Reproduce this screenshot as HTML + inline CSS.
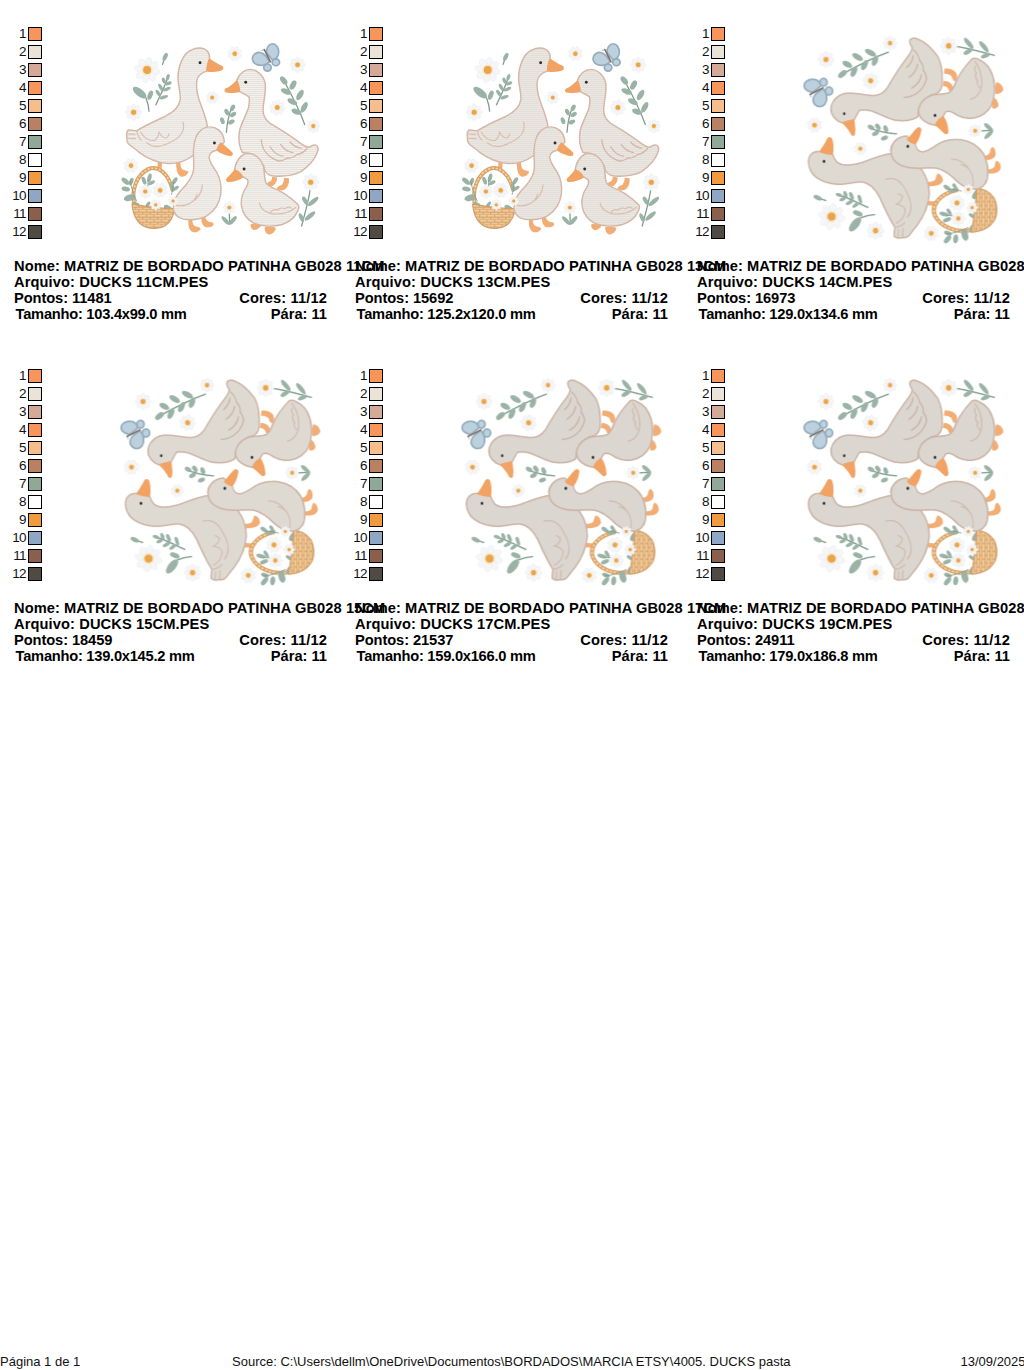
<!DOCTYPE html>
<html><head><meta charset="utf-8"><title>DUCKS</title>
<style>
html,body{margin:0;padding:0;background:#fff;}
body{width:1024px;height:1370px;position:relative;overflow:hidden;font-family:"Liberation Sans",sans-serif;color:#000;}
.cell{position:absolute;width:342px;height:340px;}
.n{position:absolute;left:0;width:25.6px;text-align:right;font-size:13.5px;letter-spacing:-0.8px;line-height:14px;height:14px;color:#111;}
.s{position:absolute;left:28px;width:12px;height:12px;border:1px solid #000;}
.t{position:absolute;left:14px;font-weight:bold;font-size:14.67px;line-height:16px;white-space:nowrap;}
.r{position:absolute;right:15px;font-weight:bold;font-size:14.67px;line-height:16px;white-space:nowrap;text-align:right;}
.art{position:absolute;left:0;top:0;width:342px;height:260px;overflow:visible;}
.f{position:absolute;top:1355px;font-size:13px;line-height:14px;white-space:nowrap;color:#111;}
</style></head>
<body>
<svg width="0" height="0" style="position:absolute"><defs>
<filter id="soft" x="-5%" y="-5%" width="110%" height="110%"><feGaussianBlur stdDeviation="0.45"/></filter>
<pattern id="fillA1a" patternUnits="userSpaceOnUse" width="15.170" height="15.170"><rect width="16.170" height="16.170" fill="#e6e1da"/><rect y="0" width="16.170" height="7.585" fill="#f3f1ed"/></pattern>
<pattern id="fillA1b" patternUnits="userSpaceOnUse" width="17.066" height="17.066"><rect width="18.066" height="18.066" fill="#e6e1da"/><rect y="0" width="18.066" height="8.533" fill="#f3f1ed"/></pattern>
<pattern id="fillA2a" patternUnits="userSpaceOnUse" width="15.170" height="15.170"><rect width="16.170" height="16.170" fill="#e2ddd6"/><rect y="0" width="16.170" height="7.585" fill="#ebe7e2"/></pattern>
<pattern id="fillA2b" patternUnits="userSpaceOnUse" width="17.066" height="17.066"><rect width="18.066" height="18.066" fill="#e2ddd6"/><rect y="0" width="18.066" height="8.533" fill="#ebe7e2"/></pattern>
<pattern id="weave" patternUnits="userSpaceOnUse" width="90" height="60"><rect width="90" height="60" fill="#f3cd9c"/><path d="M0 28 H90 M0 58 H90 M20 0 V28 M65 30 V58" stroke="#cf9960" stroke-width="11" fill="none"/></pattern>
<g id="artA1" filter="url(#soft)">
<g fill="none" stroke="#7f9b8d" stroke-width="1.3" stroke-linecap="round">
<path d="M310.5 187 C309 200 305 213 301.6 226"/>
<path d="M229.2 211 L229.7 224"/>
<path d="M146 98 C147.5 102 148.8 106 149 111.2"/>
<path d="M155.9 104.8 C158.5 99 162 92 165.1 84.7 C166.5 81 167.5 78 168.2 76"/>
<path d="M226.4 132.3 C227 122 229.5 113 232.3 106"/>
<path d="M282.4 78 C290 92 298 106 304.7 124.5"/>
<path d="M162.5 64.4 L164 60"/>
</g>
<ellipse cx="165.2" cy="56.8" rx="2.1" ry="4.3" transform="rotate(25 165.2 56.8)" fill="#9ab3a6"/><ellipse cx="139.6" cy="92.6" rx="8.2" ry="3.7" transform="rotate(38 139.6 92.6)" fill="#9ab3a6"/><ellipse cx="150.2" cy="95.2" rx="4.8" ry="2.4" transform="rotate(-68 150.2 95.2)" fill="#9ab3a6"/><ellipse cx="167.8" cy="77.3" rx="3.4" ry="1.7" transform="rotate(-73 167.8 77.3)" fill="#9ab3a6"/><ellipse cx="163.8" cy="80.6" rx="3.2" ry="1.7" transform="rotate(-112 163.8 80.6)" fill="#9ab3a6"/><ellipse cx="168.5" cy="83.4" rx="3.3" ry="1.7" transform="rotate(-20 168.5 83.4)" fill="#9ab3a6"/><ellipse cx="160.6" cy="87.3" rx="3.9" ry="1.7" transform="rotate(-118 160.6 87.3)" fill="#9ab3a6"/><ellipse cx="166.8" cy="89.2" rx="4.1" ry="1.7" transform="rotate(-23 166.8 89.2)" fill="#9ab3a6"/><ellipse cx="158.2" cy="93.2" rx="3.9" ry="1.7" transform="rotate(-125 158.2 93.2)" fill="#9ab3a6"/><ellipse cx="163.9" cy="97.2" rx="4.3" ry="1.7" transform="rotate(-19 163.9 97.2)" fill="#9ab3a6"/><ellipse cx="222.4" cy="120.7" rx="3.5" ry="2.1" transform="rotate(70 222.4 120.7)" fill="#9ab3a6"/><ellipse cx="231.3" cy="122.0" rx="3.5" ry="2.1" transform="rotate(-25 231.3 122.0)" fill="#9ab3a6"/><ellipse cx="226.8" cy="112.2" rx="3.5" ry="2.1" transform="rotate(65 226.8 112.2)" fill="#9ab3a6"/><ellipse cx="233.1" cy="114.5" rx="3.5" ry="2.1" transform="rotate(-35 233.1 114.5)" fill="#9ab3a6"/><ellipse cx="232.6" cy="107.9" rx="3.5" ry="2.1" transform="rotate(-60 232.6 107.9)" fill="#9ab3a6"/><ellipse cx="293.0" cy="85.1" rx="5.1" ry="2.7" transform="rotate(-61 293.0 85.1)" fill="#9ab3a6"/><ellipse cx="300.0" cy="95.0" rx="5.8" ry="2.7" transform="rotate(-59 300.0 95.0)" fill="#9ab3a6"/><ellipse cx="304.2" cy="107.3" rx="5.8" ry="2.7" transform="rotate(-62 304.2 107.3)" fill="#9ab3a6"/><ellipse cx="283.7" cy="80.5" rx="4.8" ry="2.7" transform="rotate(-129 283.7 80.5)" fill="#9ab3a6"/><ellipse cx="286.1" cy="91.5" rx="5.5" ry="2.7" transform="rotate(-156 286.1 91.5)" fill="#9ab3a6"/><ellipse cx="292.3" cy="101.7" rx="5.3" ry="2.7" transform="rotate(-152 292.3 101.7)" fill="#9ab3a6"/><ellipse cx="296.5" cy="111.7" rx="5.3" ry="2.7" transform="rotate(-159 296.5 111.7)" fill="#9ab3a6"/><ellipse cx="313.2" cy="201.5" rx="6.7" ry="2.2" transform="rotate(-40 313.2 201.5)" fill="#9ab3a6"/><ellipse cx="305.1" cy="200.7" rx="4.7" ry="2.1" transform="rotate(-120 305.1 200.7)" fill="#9ab3a6"/><ellipse cx="310.0" cy="216.0" rx="6.7" ry="2.2" transform="rotate(-40 310.0 216.0)" fill="#9ab3a6"/><ellipse cx="301.4" cy="217.6" rx="4.7" ry="2.0" transform="rotate(-113 301.4 217.6)" fill="#9ab3a6"/><ellipse cx="225.6" cy="220.6" rx="5.6" ry="2.0" transform="rotate(-134 225.6 220.6)" fill="#9ab3a6"/><ellipse cx="232.9" cy="220.4" rx="5.4" ry="2.0" transform="rotate(-50 232.9 220.4)" fill="#9ab3a6"/>
<g transform="translate(147.1 70.0) rotate(10)"><ellipse cx="0" cy="-7.69" rx="3.35" ry="5.21" transform="rotate(0)" fill="#f5f6f8" stroke="#e6e9ee" stroke-width="0.4"/><ellipse cx="0" cy="-7.69" rx="3.35" ry="5.21" transform="rotate(45)" fill="#f5f6f8" stroke="#e6e9ee" stroke-width="0.4"/><ellipse cx="0" cy="-7.69" rx="3.35" ry="5.21" transform="rotate(90)" fill="#f5f6f8" stroke="#e6e9ee" stroke-width="0.4"/><ellipse cx="0" cy="-7.69" rx="3.35" ry="5.21" transform="rotate(135)" fill="#f5f6f8" stroke="#e6e9ee" stroke-width="0.4"/><ellipse cx="0" cy="-7.69" rx="3.35" ry="5.21" transform="rotate(180)" fill="#f5f6f8" stroke="#e6e9ee" stroke-width="0.4"/><ellipse cx="0" cy="-7.69" rx="3.35" ry="5.21" transform="rotate(225)" fill="#f5f6f8" stroke="#e6e9ee" stroke-width="0.4"/><ellipse cx="0" cy="-7.69" rx="3.35" ry="5.21" transform="rotate(270)" fill="#f5f6f8" stroke="#e6e9ee" stroke-width="0.4"/><ellipse cx="0" cy="-7.69" rx="3.35" ry="5.21" transform="rotate(315)" fill="#f5f6f8" stroke="#e6e9ee" stroke-width="0.4"/><circle r="5.46" fill="#fbe6c8"/><circle r="3.97" fill="#e9a548"/></g>
<g transform="translate(133.6 112.2) rotate(0)"><ellipse cx="0" cy="-4.96" rx="2.16" ry="3.36" transform="rotate(0)" fill="#f5f6f8" stroke="#e6e9ee" stroke-width="0.4"/><ellipse cx="0" cy="-4.96" rx="2.16" ry="3.36" transform="rotate(45)" fill="#f5f6f8" stroke="#e6e9ee" stroke-width="0.4"/><ellipse cx="0" cy="-4.96" rx="2.16" ry="3.36" transform="rotate(90)" fill="#f5f6f8" stroke="#e6e9ee" stroke-width="0.4"/><ellipse cx="0" cy="-4.96" rx="2.16" ry="3.36" transform="rotate(135)" fill="#f5f6f8" stroke="#e6e9ee" stroke-width="0.4"/><ellipse cx="0" cy="-4.96" rx="2.16" ry="3.36" transform="rotate(180)" fill="#f5f6f8" stroke="#e6e9ee" stroke-width="0.4"/><ellipse cx="0" cy="-4.96" rx="2.16" ry="3.36" transform="rotate(225)" fill="#f5f6f8" stroke="#e6e9ee" stroke-width="0.4"/><ellipse cx="0" cy="-4.96" rx="2.16" ry="3.36" transform="rotate(270)" fill="#f5f6f8" stroke="#e6e9ee" stroke-width="0.4"/><ellipse cx="0" cy="-4.96" rx="2.16" ry="3.36" transform="rotate(315)" fill="#f5f6f8" stroke="#e6e9ee" stroke-width="0.4"/><circle r="3.52" fill="#fbe6c8"/><circle r="2.56" fill="#e9a548"/></g>
<g transform="translate(234.7 53.7) rotate(20)"><ellipse cx="0" cy="-4.34" rx="1.89" ry="2.94" transform="rotate(0)" fill="#f5f6f8" stroke="#e6e9ee" stroke-width="0.4"/><ellipse cx="0" cy="-4.34" rx="1.89" ry="2.94" transform="rotate(45)" fill="#f5f6f8" stroke="#e6e9ee" stroke-width="0.4"/><ellipse cx="0" cy="-4.34" rx="1.89" ry="2.94" transform="rotate(90)" fill="#f5f6f8" stroke="#e6e9ee" stroke-width="0.4"/><ellipse cx="0" cy="-4.34" rx="1.89" ry="2.94" transform="rotate(135)" fill="#f5f6f8" stroke="#e6e9ee" stroke-width="0.4"/><ellipse cx="0" cy="-4.34" rx="1.89" ry="2.94" transform="rotate(180)" fill="#f5f6f8" stroke="#e6e9ee" stroke-width="0.4"/><ellipse cx="0" cy="-4.34" rx="1.89" ry="2.94" transform="rotate(225)" fill="#f5f6f8" stroke="#e6e9ee" stroke-width="0.4"/><ellipse cx="0" cy="-4.34" rx="1.89" ry="2.94" transform="rotate(270)" fill="#f5f6f8" stroke="#e6e9ee" stroke-width="0.4"/><ellipse cx="0" cy="-4.34" rx="1.89" ry="2.94" transform="rotate(315)" fill="#f5f6f8" stroke="#e6e9ee" stroke-width="0.4"/><circle r="3.08" fill="#fbe6c8"/><circle r="2.24" fill="#e9a548"/></g>
<g transform="translate(297.6 64.8) rotate(0)"><ellipse cx="0" cy="-4.65" rx="2.03" ry="3.15" transform="rotate(0)" fill="#f5f6f8" stroke="#e6e9ee" stroke-width="0.4"/><ellipse cx="0" cy="-4.65" rx="2.03" ry="3.15" transform="rotate(45)" fill="#f5f6f8" stroke="#e6e9ee" stroke-width="0.4"/><ellipse cx="0" cy="-4.65" rx="2.03" ry="3.15" transform="rotate(90)" fill="#f5f6f8" stroke="#e6e9ee" stroke-width="0.4"/><ellipse cx="0" cy="-4.65" rx="2.03" ry="3.15" transform="rotate(135)" fill="#f5f6f8" stroke="#e6e9ee" stroke-width="0.4"/><ellipse cx="0" cy="-4.65" rx="2.03" ry="3.15" transform="rotate(180)" fill="#f5f6f8" stroke="#e6e9ee" stroke-width="0.4"/><ellipse cx="0" cy="-4.65" rx="2.03" ry="3.15" transform="rotate(225)" fill="#f5f6f8" stroke="#e6e9ee" stroke-width="0.4"/><ellipse cx="0" cy="-4.65" rx="2.03" ry="3.15" transform="rotate(270)" fill="#f5f6f8" stroke="#e6e9ee" stroke-width="0.4"/><ellipse cx="0" cy="-4.65" rx="2.03" ry="3.15" transform="rotate(315)" fill="#f5f6f8" stroke="#e6e9ee" stroke-width="0.4"/><circle r="3.30" fill="#fbe6c8"/><circle r="2.40" fill="#e9a548"/></g>
<g transform="translate(212.2 97.6) rotate(15)"><ellipse cx="0" cy="-3.72" rx="1.62" ry="2.52" transform="rotate(0)" fill="#f5f6f8" stroke="#e6e9ee" stroke-width="0.4"/><ellipse cx="0" cy="-3.72" rx="1.62" ry="2.52" transform="rotate(45)" fill="#f5f6f8" stroke="#e6e9ee" stroke-width="0.4"/><ellipse cx="0" cy="-3.72" rx="1.62" ry="2.52" transform="rotate(90)" fill="#f5f6f8" stroke="#e6e9ee" stroke-width="0.4"/><ellipse cx="0" cy="-3.72" rx="1.62" ry="2.52" transform="rotate(135)" fill="#f5f6f8" stroke="#e6e9ee" stroke-width="0.4"/><ellipse cx="0" cy="-3.72" rx="1.62" ry="2.52" transform="rotate(180)" fill="#f5f6f8" stroke="#e6e9ee" stroke-width="0.4"/><ellipse cx="0" cy="-3.72" rx="1.62" ry="2.52" transform="rotate(225)" fill="#f5f6f8" stroke="#e6e9ee" stroke-width="0.4"/><ellipse cx="0" cy="-3.72" rx="1.62" ry="2.52" transform="rotate(270)" fill="#f5f6f8" stroke="#e6e9ee" stroke-width="0.4"/><ellipse cx="0" cy="-3.72" rx="1.62" ry="2.52" transform="rotate(315)" fill="#f5f6f8" stroke="#e6e9ee" stroke-width="0.4"/><circle r="2.64" fill="#fbe6c8"/><circle r="1.92" fill="#e9a548"/></g>
<g transform="translate(277.3 107.5) rotate(10)"><ellipse cx="0" cy="-4.65" rx="2.03" ry="3.15" transform="rotate(0)" fill="#f5f6f8" stroke="#e6e9ee" stroke-width="0.4"/><ellipse cx="0" cy="-4.65" rx="2.03" ry="3.15" transform="rotate(45)" fill="#f5f6f8" stroke="#e6e9ee" stroke-width="0.4"/><ellipse cx="0" cy="-4.65" rx="2.03" ry="3.15" transform="rotate(90)" fill="#f5f6f8" stroke="#e6e9ee" stroke-width="0.4"/><ellipse cx="0" cy="-4.65" rx="2.03" ry="3.15" transform="rotate(135)" fill="#f5f6f8" stroke="#e6e9ee" stroke-width="0.4"/><ellipse cx="0" cy="-4.65" rx="2.03" ry="3.15" transform="rotate(180)" fill="#f5f6f8" stroke="#e6e9ee" stroke-width="0.4"/><ellipse cx="0" cy="-4.65" rx="2.03" ry="3.15" transform="rotate(225)" fill="#f5f6f8" stroke="#e6e9ee" stroke-width="0.4"/><ellipse cx="0" cy="-4.65" rx="2.03" ry="3.15" transform="rotate(270)" fill="#f5f6f8" stroke="#e6e9ee" stroke-width="0.4"/><ellipse cx="0" cy="-4.65" rx="2.03" ry="3.15" transform="rotate(315)" fill="#f5f6f8" stroke="#e6e9ee" stroke-width="0.4"/><circle r="3.30" fill="#fbe6c8"/><circle r="2.40" fill="#e9a548"/></g>
<g transform="translate(313.3 126.1) rotate(0)"><ellipse cx="0" cy="-4.03" rx="1.76" ry="2.73" transform="rotate(0)" fill="#f5f6f8" stroke="#e6e9ee" stroke-width="0.4"/><ellipse cx="0" cy="-4.03" rx="1.76" ry="2.73" transform="rotate(45)" fill="#f5f6f8" stroke="#e6e9ee" stroke-width="0.4"/><ellipse cx="0" cy="-4.03" rx="1.76" ry="2.73" transform="rotate(90)" fill="#f5f6f8" stroke="#e6e9ee" stroke-width="0.4"/><ellipse cx="0" cy="-4.03" rx="1.76" ry="2.73" transform="rotate(135)" fill="#f5f6f8" stroke="#e6e9ee" stroke-width="0.4"/><ellipse cx="0" cy="-4.03" rx="1.76" ry="2.73" transform="rotate(180)" fill="#f5f6f8" stroke="#e6e9ee" stroke-width="0.4"/><ellipse cx="0" cy="-4.03" rx="1.76" ry="2.73" transform="rotate(225)" fill="#f5f6f8" stroke="#e6e9ee" stroke-width="0.4"/><ellipse cx="0" cy="-4.03" rx="1.76" ry="2.73" transform="rotate(270)" fill="#f5f6f8" stroke="#e6e9ee" stroke-width="0.4"/><ellipse cx="0" cy="-4.03" rx="1.76" ry="2.73" transform="rotate(315)" fill="#f5f6f8" stroke="#e6e9ee" stroke-width="0.4"/><circle r="2.86" fill="#fbe6c8"/><circle r="2.08" fill="#e9a548"/></g>
<g transform="translate(131.0 165.6) rotate(20)"><ellipse cx="0" cy="-4.34" rx="1.89" ry="2.94" transform="rotate(0)" fill="#f5f6f8" stroke="#e6e9ee" stroke-width="0.4"/><ellipse cx="0" cy="-4.34" rx="1.89" ry="2.94" transform="rotate(45)" fill="#f5f6f8" stroke="#e6e9ee" stroke-width="0.4"/><ellipse cx="0" cy="-4.34" rx="1.89" ry="2.94" transform="rotate(90)" fill="#f5f6f8" stroke="#e6e9ee" stroke-width="0.4"/><ellipse cx="0" cy="-4.34" rx="1.89" ry="2.94" transform="rotate(135)" fill="#f5f6f8" stroke="#e6e9ee" stroke-width="0.4"/><ellipse cx="0" cy="-4.34" rx="1.89" ry="2.94" transform="rotate(180)" fill="#f5f6f8" stroke="#e6e9ee" stroke-width="0.4"/><ellipse cx="0" cy="-4.34" rx="1.89" ry="2.94" transform="rotate(225)" fill="#f5f6f8" stroke="#e6e9ee" stroke-width="0.4"/><ellipse cx="0" cy="-4.34" rx="1.89" ry="2.94" transform="rotate(270)" fill="#f5f6f8" stroke="#e6e9ee" stroke-width="0.4"/><ellipse cx="0" cy="-4.34" rx="1.89" ry="2.94" transform="rotate(315)" fill="#f5f6f8" stroke="#e6e9ee" stroke-width="0.4"/><circle r="3.08" fill="#fbe6c8"/><circle r="2.24" fill="#e9a548"/></g>
<g transform="translate(310.7 182.2) rotate(0)"><ellipse cx="0" cy="-4.96" rx="2.16" ry="3.36" transform="rotate(0)" fill="#f5f6f8" stroke="#e6e9ee" stroke-width="0.4"/><ellipse cx="0" cy="-4.96" rx="2.16" ry="3.36" transform="rotate(45)" fill="#f5f6f8" stroke="#e6e9ee" stroke-width="0.4"/><ellipse cx="0" cy="-4.96" rx="2.16" ry="3.36" transform="rotate(90)" fill="#f5f6f8" stroke="#e6e9ee" stroke-width="0.4"/><ellipse cx="0" cy="-4.96" rx="2.16" ry="3.36" transform="rotate(135)" fill="#f5f6f8" stroke="#e6e9ee" stroke-width="0.4"/><ellipse cx="0" cy="-4.96" rx="2.16" ry="3.36" transform="rotate(180)" fill="#f5f6f8" stroke="#e6e9ee" stroke-width="0.4"/><ellipse cx="0" cy="-4.96" rx="2.16" ry="3.36" transform="rotate(225)" fill="#f5f6f8" stroke="#e6e9ee" stroke-width="0.4"/><ellipse cx="0" cy="-4.96" rx="2.16" ry="3.36" transform="rotate(270)" fill="#f5f6f8" stroke="#e6e9ee" stroke-width="0.4"/><ellipse cx="0" cy="-4.96" rx="2.16" ry="3.36" transform="rotate(315)" fill="#f5f6f8" stroke="#e6e9ee" stroke-width="0.4"/><circle r="3.52" fill="#fbe6c8"/><circle r="2.56" fill="#e9a548"/></g>
<g transform="translate(229.3 207.6) rotate(0)"><ellipse cx="0" cy="-3.72" rx="1.62" ry="2.52" transform="rotate(0)" fill="#f5f6f8" stroke="#e6e9ee" stroke-width="0.4"/><ellipse cx="0" cy="-3.72" rx="1.62" ry="2.52" transform="rotate(45)" fill="#f5f6f8" stroke="#e6e9ee" stroke-width="0.4"/><ellipse cx="0" cy="-3.72" rx="1.62" ry="2.52" transform="rotate(90)" fill="#f5f6f8" stroke="#e6e9ee" stroke-width="0.4"/><ellipse cx="0" cy="-3.72" rx="1.62" ry="2.52" transform="rotate(135)" fill="#f5f6f8" stroke="#e6e9ee" stroke-width="0.4"/><ellipse cx="0" cy="-3.72" rx="1.62" ry="2.52" transform="rotate(180)" fill="#f5f6f8" stroke="#e6e9ee" stroke-width="0.4"/><ellipse cx="0" cy="-3.72" rx="1.62" ry="2.52" transform="rotate(225)" fill="#f5f6f8" stroke="#e6e9ee" stroke-width="0.4"/><ellipse cx="0" cy="-3.72" rx="1.62" ry="2.52" transform="rotate(270)" fill="#f5f6f8" stroke="#e6e9ee" stroke-width="0.4"/><ellipse cx="0" cy="-3.72" rx="1.62" ry="2.52" transform="rotate(315)" fill="#f5f6f8" stroke="#e6e9ee" stroke-width="0.4"/><circle r="2.64" fill="#fbe6c8"/><circle r="1.92" fill="#e9a548"/></g>
<!-- duck 1 : Z1 [115,40,250,175] -->
<g transform="translate(115 40) scale(0.13184)">
 <g fill="#f2ad74">
  <path d="M463 913 L497 913 C494 945 498 968 510 980 C525 990 545 990 557 998 C555 1020 530 1040 503 1037 C480 1030 462 1005 463 913 Z"/>
  <path d="M325 925 L358 930 L352 985 L322 985 Z"/>
 </g>
 <path fill="url(#fillA1a)" stroke="#d5b7a7" stroke-width="11" stroke-linejoin="round" d="M640 60 C700 60 722 105 716 142 L696 236 C660 246 628 268 620 310 C612 370 630 440 655 500 C678 560 694 610 702 660 L700 760 C680 830 630 865 590 878 C540 915 470 940 400 937 C320 930 240 895 180 850 C150 822 118 805 100 785 C84 765 90 745 90 735 C84 715 90 695 100 683 C125 680 145 690 165 688 C225 652 300 615 380 580 C440 550 488 505 495 450 C498 400 478 340 478 290 C478 200 515 105 575 78 C595 66 620 60 640 60 Z"/>
 <path fill="#f2a262" d="M716 138 C745 160 785 185 812 196 C826 206 824 226 810 232 C775 244 730 244 694 238 C690 200 700 165 716 138 Z"/>
 <circle cx="645" cy="173" r="11" fill="#2d2a28"/>
 <path fill="none" stroke="#dac0b2" stroke-width="9" stroke-linecap="round" d="M515 622 C532 680 505 728 445 762 C400 788 350 810 310 806 M195 700 C220 745 262 765 300 762 C318 748 330 722 334 700 C350 730 372 745 392 742 C400 735 408 722 410 712 M240 780 C265 800 292 808 312 806 M165 690 C170 720 180 745 200 760 M100 712 L150 716 M95 745 L155 748"/>
</g>
<!-- duck 2 : Z2 [215,60,335,180] -->
<g transform="translate(170 115) scale(0.13184)" fill="#f2ad74">
 <path d="M775 468 L812 474 C814 500 802 522 782 536 C766 546 745 546 731 536 C727 520 744 510 760 505 C770 495 775 485 775 468 Z"/>
 <path d="M865 476 L902 480 C907 510 897 542 876 562 C860 576 830 576 811 560 C809 545 830 535 848 530 C860 515 865 500 865 476 Z"/>
</g>
<g transform="translate(215 60) scale(0.11719)">
 <path fill="url(#fillA1b)" stroke="#d5b7a7" stroke-width="12.5" stroke-linejoin="round" d="M300 80 C360 82 415 130 428 200 C438 270 415 340 410 420 C408 470 430 510 470 540 C540 580 640 640 740 718 C765 735 790 745 805 745 C825 730 850 722 865 728 C885 745 880 775 870 795 C850 850 800 905 730 955 C670 985 580 995 500 990 C450 985 420 950 415 900 L300 800 L235 790 C205 740 200 660 210 600 C225 540 265 470 285 410 C295 370 295 340 290 315 C270 300 240 285 213 272 L187 172 C205 120 250 80 300 80 Z"/>
 <path fill="#f2a262" d="M187 170 C160 198 122 232 90 244 C76 254 78 274 92 278 C130 286 175 280 213 272 C215 235 205 200 187 170 Z"/>
 <circle cx="262" cy="190" r="12" fill="#2d2a28"/>
 <path fill="none" stroke="#d5b7a7" stroke-width="11" stroke-linecap="round" d="M395 680 C398 760 450 835 545 862 C575 860 600 850 615 835 C650 840 680 825 700 805 C735 800 765 780 785 755 M470 740 C500 790 540 815 580 820 M560 720 C590 765 630 785 665 790 M640 700 C670 735 700 750 735 752"/>
</g>
<!-- basket : Z4 [115,155,200,240] -->
<g transform="translate(115 155) scale(0.08301)">
 <path fill="none" stroke="#dba266" stroke-width="48" stroke-linecap="round" d="M228 575 C200 420 260 240 400 170 C520 120 650 230 692 420"/>
 <path fill="none" stroke="#f5d3a4" stroke-width="20" stroke-linecap="butt" stroke-dasharray="28 18" d="M228 575 C200 420 260 240 400 170 C520 120 650 230 692 420"/>
 <g fill="#9ab3a6">
  <ellipse cx="125" cy="315" rx="56" ry="28" transform="rotate(40 125 315)"/>
  <ellipse cx="195" cy="320" rx="47" ry="24" transform="rotate(-70 195 320)"/>
  <ellipse cx="130" cy="410" rx="52" ry="28" transform="rotate(10 130 410)"/>
  <ellipse cx="175" cy="515" rx="69" ry="38" transform="rotate(-15 175 515)"/>
  <ellipse cx="350" cy="310" rx="50" ry="24" transform="rotate(70 350 310)"/>
  <ellipse cx="415" cy="275" rx="54" ry="24" transform="rotate(-75 415 275)"/>
  <ellipse cx="440" cy="335" rx="45" ry="21" transform="rotate(-30 440 335)"/>
  <ellipse cx="720" cy="310" rx="47" ry="24" transform="rotate(-55 720 310)"/>
  <ellipse cx="690" cy="390" rx="50" ry="24" transform="rotate(70 690 390)"/>
  <ellipse cx="735" cy="400" rx="40" ry="20" transform="rotate(-35 735 400)"/>
  <ellipse cx="782" cy="548" rx="43" ry="20" transform="rotate(-25 782 548)"/>
  <ellipse cx="640" cy="640" rx="56" ry="31" transform="rotate(30 640 640)"/>
  <ellipse cx="395" cy="600" rx="45" ry="20" transform="rotate(-55 395 600)"/>
  <ellipse cx="250" cy="590" rx="45" ry="21" transform="rotate(20 250 590)"/>
 </g>
 <path fill="none" stroke="#7f9b8d" stroke-width="10" d="M185 300 C190 400 230 480 262 560 M400 300 L395 380 M705 330 C700 400 690 440 680 480"/>
 <path fill="url(#weave)" stroke="#cf9d66" stroke-width="13" stroke-linejoin="round" d="M205 592 C300 605 500 650 712 645 C712 720 680 800 600 855 C540 890 420 895 360 865 C270 820 215 720 205 592 Z"/>
</g>
<!-- duck 3 & 4 : Z3 [170,115,305,250] -->
<g transform="translate(170 115) scale(0.13184)">
 <g fill="#f2ad74">
  <path d="M140 793 L170 793 C168 820 176 838 196 845 C216 848 231 852 233 862 C226 880 200 893 175 889 C150 880 135 850 140 793 Z"/>
  <path d="M238 776 L266 768 C269 795 286 808 306 812 C321 815 333 820 331 832 C321 850 290 856 265 849 C245 835 235 810 238 776 Z"/>
  <path d="M614 826 C640 823 670 826 692 834 C687 856 660 872 634 872 C616 863 606 845 614 826 Z"/>
  <path d="M719 849 C745 843 780 846 802 857 C802 880 776 907 745 907 C724 896 714 870 719 849 Z"/>
 </g>
 <path fill="url(#fillA1a)" stroke="#d5b7a7" stroke-width="11" stroke-linejoin="round" d="M300 90 C350 88 395 125 408 175 L412 205 L352 268 C320 275 298 295 296 320 C300 360 330 400 355 435 C380 480 392 540 385 600 C375 670 335 730 280 765 C230 790 160 800 100 790 C55 780 25 745 25 700 C28 650 50 610 80 575 C130 525 170 470 178 420 C185 370 175 320 178 270 C180 200 200 140 240 110 C258 96 280 90 300 90 Z"/>
 <path fill="#f2a262" d="M385 206 C415 232 452 260 472 282 C482 296 474 312 458 312 C425 308 385 294 352 270 C355 245 365 225 385 206 Z"/>
 <circle cx="337" cy="212" r="11" fill="#2d2a28"/>
 <path fill="none" stroke="#dac0b2" stroke-width="9" stroke-linecap="round" d="M246 530 C244 590 205 640 150 672 C115 688 80 692 48 686 M205 600 C200 620 192 635 180 648"/>
 <path fill="url(#fillA1a)" stroke="#d5b7a7" stroke-width="11" stroke-linejoin="round" d="M590 290 C640 290 690 330 708 385 C720 430 712 480 728 515 C745 545 790 555 830 575 C880 600 930 640 972 680 C982 700 975 720 965 735 C945 780 900 815 845 832 C790 848 700 848 640 822 C590 800 550 750 542 690 C535 630 555 580 580 545 C592 525 594 505 588 490 L555 470 L490 415 C495 380 510 340 540 312 C555 298 572 290 590 290 Z"/>
 <path fill="#f2a262" d="M490 411 C470 438 443 466 428 482 C420 496 430 510 446 509 C482 506 522 496 556 474 C546 440 520 420 490 411 Z"/>
 <circle cx="562" cy="410" r="11" fill="#2d2a28"/>
 <path fill="none" stroke="#dac0b2" stroke-width="9" stroke-linecap="round" d="M680 668 C688 715 735 750 800 752 C860 752 915 735 955 700 M760 740 C775 720 800 712 815 722 C830 705 855 700 870 712 C885 698 905 695 920 705"/>
</g>
<!-- butterfly : Z5 [245,35,295,85] -->
<g transform="translate(245 35) scale(0.04883)">
 <g fill="#bcd0dd" stroke="#93adbe" stroke-width="34" stroke-linejoin="round">
  <ellipse cx="460" cy="668" rx="78" ry="72"/>
  <ellipse cx="632" cy="560" rx="76" ry="70"/>
  <path d="M470 500 C420 400 330 340 250 360 C170 385 130 470 165 540 C200 610 300 640 400 610 C450 595 490 560 510 540 Z"/>
  <path d="M440 360 C430 280 480 190 560 180 C640 180 690 260 690 350 C690 430 640 490 560 510 Z"/>
 </g>
 <path fill="none" stroke="#856c63" stroke-width="30" stroke-linecap="round" d="M392 295 L522 550"/>
 <path fill="none" stroke="#8b7268" stroke-width="10" stroke-linecap="round" d="M395 300 L340 318"/>
</g>

<g transform="translate(145.3 191.5) rotate(0)"><ellipse cx="0" cy="-4.09" rx="1.78" ry="2.77" transform="rotate(0)" fill="#f5f6f8" stroke="#e6e9ee" stroke-width="0.4"/><ellipse cx="0" cy="-4.09" rx="1.78" ry="2.77" transform="rotate(45)" fill="#f5f6f8" stroke="#e6e9ee" stroke-width="0.4"/><ellipse cx="0" cy="-4.09" rx="1.78" ry="2.77" transform="rotate(90)" fill="#f5f6f8" stroke="#e6e9ee" stroke-width="0.4"/><ellipse cx="0" cy="-4.09" rx="1.78" ry="2.77" transform="rotate(135)" fill="#f5f6f8" stroke="#e6e9ee" stroke-width="0.4"/><ellipse cx="0" cy="-4.09" rx="1.78" ry="2.77" transform="rotate(180)" fill="#f5f6f8" stroke="#e6e9ee" stroke-width="0.4"/><ellipse cx="0" cy="-4.09" rx="1.78" ry="2.77" transform="rotate(225)" fill="#f5f6f8" stroke="#e6e9ee" stroke-width="0.4"/><ellipse cx="0" cy="-4.09" rx="1.78" ry="2.77" transform="rotate(270)" fill="#f5f6f8" stroke="#e6e9ee" stroke-width="0.4"/><ellipse cx="0" cy="-4.09" rx="1.78" ry="2.77" transform="rotate(315)" fill="#f5f6f8" stroke="#e6e9ee" stroke-width="0.4"/><circle r="2.90" fill="#fbe6c8"/><circle r="2.11" fill="#e9a548"/></g><g transform="translate(160.2 190.3) rotate(20)"><ellipse cx="0" cy="-4.46" rx="1.94" ry="3.02" transform="rotate(0)" fill="#f5f6f8" stroke="#e6e9ee" stroke-width="0.4"/><ellipse cx="0" cy="-4.46" rx="1.94" ry="3.02" transform="rotate(45)" fill="#f5f6f8" stroke="#e6e9ee" stroke-width="0.4"/><ellipse cx="0" cy="-4.46" rx="1.94" ry="3.02" transform="rotate(90)" fill="#f5f6f8" stroke="#e6e9ee" stroke-width="0.4"/><ellipse cx="0" cy="-4.46" rx="1.94" ry="3.02" transform="rotate(135)" fill="#f5f6f8" stroke="#e6e9ee" stroke-width="0.4"/><ellipse cx="0" cy="-4.46" rx="1.94" ry="3.02" transform="rotate(180)" fill="#f5f6f8" stroke="#e6e9ee" stroke-width="0.4"/><ellipse cx="0" cy="-4.46" rx="1.94" ry="3.02" transform="rotate(225)" fill="#f5f6f8" stroke="#e6e9ee" stroke-width="0.4"/><ellipse cx="0" cy="-4.46" rx="1.94" ry="3.02" transform="rotate(270)" fill="#f5f6f8" stroke="#e6e9ee" stroke-width="0.4"/><ellipse cx="0" cy="-4.46" rx="1.94" ry="3.02" transform="rotate(315)" fill="#f5f6f8" stroke="#e6e9ee" stroke-width="0.4"/><circle r="3.17" fill="#fbe6c8"/><circle r="2.30" fill="#e9a548"/></g><g transform="translate(155.7 204.8) rotate(0)"><ellipse cx="0" cy="-3.22" rx="1.40" ry="2.18" transform="rotate(0)" fill="#f5f6f8" stroke="#e6e9ee" stroke-width="0.4"/><ellipse cx="0" cy="-3.22" rx="1.40" ry="2.18" transform="rotate(45)" fill="#f5f6f8" stroke="#e6e9ee" stroke-width="0.4"/><ellipse cx="0" cy="-3.22" rx="1.40" ry="2.18" transform="rotate(90)" fill="#f5f6f8" stroke="#e6e9ee" stroke-width="0.4"/><ellipse cx="0" cy="-3.22" rx="1.40" ry="2.18" transform="rotate(135)" fill="#f5f6f8" stroke="#e6e9ee" stroke-width="0.4"/><ellipse cx="0" cy="-3.22" rx="1.40" ry="2.18" transform="rotate(180)" fill="#f5f6f8" stroke="#e6e9ee" stroke-width="0.4"/><ellipse cx="0" cy="-3.22" rx="1.40" ry="2.18" transform="rotate(225)" fill="#f5f6f8" stroke="#e6e9ee" stroke-width="0.4"/><ellipse cx="0" cy="-3.22" rx="1.40" ry="2.18" transform="rotate(270)" fill="#f5f6f8" stroke="#e6e9ee" stroke-width="0.4"/><ellipse cx="0" cy="-3.22" rx="1.40" ry="2.18" transform="rotate(315)" fill="#f5f6f8" stroke="#e6e9ee" stroke-width="0.4"/><circle r="2.29" fill="#fbe6c8"/><circle r="1.66" fill="#e9a548"/></g><g transform="translate(173.1 201.1) rotate(10)"><ellipse cx="0" cy="-2.98" rx="1.30" ry="2.02" transform="rotate(0)" fill="#f5f6f8" stroke="#e6e9ee" stroke-width="0.4"/><ellipse cx="0" cy="-2.98" rx="1.30" ry="2.02" transform="rotate(45)" fill="#f5f6f8" stroke="#e6e9ee" stroke-width="0.4"/><ellipse cx="0" cy="-2.98" rx="1.30" ry="2.02" transform="rotate(90)" fill="#f5f6f8" stroke="#e6e9ee" stroke-width="0.4"/><ellipse cx="0" cy="-2.98" rx="1.30" ry="2.02" transform="rotate(135)" fill="#f5f6f8" stroke="#e6e9ee" stroke-width="0.4"/><ellipse cx="0" cy="-2.98" rx="1.30" ry="2.02" transform="rotate(180)" fill="#f5f6f8" stroke="#e6e9ee" stroke-width="0.4"/><ellipse cx="0" cy="-2.98" rx="1.30" ry="2.02" transform="rotate(225)" fill="#f5f6f8" stroke="#e6e9ee" stroke-width="0.4"/><ellipse cx="0" cy="-2.98" rx="1.30" ry="2.02" transform="rotate(270)" fill="#f5f6f8" stroke="#e6e9ee" stroke-width="0.4"/><ellipse cx="0" cy="-2.98" rx="1.30" ry="2.02" transform="rotate(315)" fill="#f5f6f8" stroke="#e6e9ee" stroke-width="0.4"/><circle r="2.11" fill="#fbe6c8"/><circle r="1.54" fill="#e9a548"/></g>
</g>
<g id="artA2" filter="url(#soft)">
<g fill="none" stroke="#7f9b8d" stroke-width="1.3" stroke-linecap="round">
<path d="M310.5 187 C309 200 305 213 301.6 226"/>
<path d="M229.2 211 L229.7 224"/>
<path d="M146 98 C147.5 102 148.8 106 149 111.2"/>
<path d="M155.9 104.8 C158.5 99 162 92 165.1 84.7 C166.5 81 167.5 78 168.2 76"/>
<path d="M226.4 132.3 C227 122 229.5 113 232.3 106"/>
<path d="M282.4 78 C290 92 298 106 304.7 124.5"/>
<path d="M162.5 64.4 L164 60"/>
</g>
<ellipse cx="165.2" cy="56.8" rx="2.1" ry="4.3" transform="rotate(25 165.2 56.8)" fill="#9ab3a6"/><ellipse cx="139.6" cy="92.6" rx="8.2" ry="3.7" transform="rotate(38 139.6 92.6)" fill="#9ab3a6"/><ellipse cx="150.2" cy="95.2" rx="4.8" ry="2.4" transform="rotate(-68 150.2 95.2)" fill="#9ab3a6"/><ellipse cx="167.8" cy="77.3" rx="3.4" ry="1.7" transform="rotate(-73 167.8 77.3)" fill="#9ab3a6"/><ellipse cx="163.8" cy="80.6" rx="3.2" ry="1.7" transform="rotate(-112 163.8 80.6)" fill="#9ab3a6"/><ellipse cx="168.5" cy="83.4" rx="3.3" ry="1.7" transform="rotate(-20 168.5 83.4)" fill="#9ab3a6"/><ellipse cx="160.6" cy="87.3" rx="3.9" ry="1.7" transform="rotate(-118 160.6 87.3)" fill="#9ab3a6"/><ellipse cx="166.8" cy="89.2" rx="4.1" ry="1.7" transform="rotate(-23 166.8 89.2)" fill="#9ab3a6"/><ellipse cx="158.2" cy="93.2" rx="3.9" ry="1.7" transform="rotate(-125 158.2 93.2)" fill="#9ab3a6"/><ellipse cx="163.9" cy="97.2" rx="4.3" ry="1.7" transform="rotate(-19 163.9 97.2)" fill="#9ab3a6"/><ellipse cx="222.4" cy="120.7" rx="3.5" ry="2.1" transform="rotate(70 222.4 120.7)" fill="#9ab3a6"/><ellipse cx="231.3" cy="122.0" rx="3.5" ry="2.1" transform="rotate(-25 231.3 122.0)" fill="#9ab3a6"/><ellipse cx="226.8" cy="112.2" rx="3.5" ry="2.1" transform="rotate(65 226.8 112.2)" fill="#9ab3a6"/><ellipse cx="233.1" cy="114.5" rx="3.5" ry="2.1" transform="rotate(-35 233.1 114.5)" fill="#9ab3a6"/><ellipse cx="232.6" cy="107.9" rx="3.5" ry="2.1" transform="rotate(-60 232.6 107.9)" fill="#9ab3a6"/><ellipse cx="293.0" cy="85.1" rx="5.1" ry="2.7" transform="rotate(-61 293.0 85.1)" fill="#9ab3a6"/><ellipse cx="300.0" cy="95.0" rx="5.8" ry="2.7" transform="rotate(-59 300.0 95.0)" fill="#9ab3a6"/><ellipse cx="304.2" cy="107.3" rx="5.8" ry="2.7" transform="rotate(-62 304.2 107.3)" fill="#9ab3a6"/><ellipse cx="283.7" cy="80.5" rx="4.8" ry="2.7" transform="rotate(-129 283.7 80.5)" fill="#9ab3a6"/><ellipse cx="286.1" cy="91.5" rx="5.5" ry="2.7" transform="rotate(-156 286.1 91.5)" fill="#9ab3a6"/><ellipse cx="292.3" cy="101.7" rx="5.3" ry="2.7" transform="rotate(-152 292.3 101.7)" fill="#9ab3a6"/><ellipse cx="296.5" cy="111.7" rx="5.3" ry="2.7" transform="rotate(-159 296.5 111.7)" fill="#9ab3a6"/><ellipse cx="313.2" cy="201.5" rx="6.7" ry="2.2" transform="rotate(-40 313.2 201.5)" fill="#9ab3a6"/><ellipse cx="305.1" cy="200.7" rx="4.7" ry="2.1" transform="rotate(-120 305.1 200.7)" fill="#9ab3a6"/><ellipse cx="310.0" cy="216.0" rx="6.7" ry="2.2" transform="rotate(-40 310.0 216.0)" fill="#9ab3a6"/><ellipse cx="301.4" cy="217.6" rx="4.7" ry="2.0" transform="rotate(-113 301.4 217.6)" fill="#9ab3a6"/><ellipse cx="225.6" cy="220.6" rx="5.6" ry="2.0" transform="rotate(-134 225.6 220.6)" fill="#9ab3a6"/><ellipse cx="232.9" cy="220.4" rx="5.4" ry="2.0" transform="rotate(-50 232.9 220.4)" fill="#9ab3a6"/>
<g transform="translate(147.1 70.0) rotate(10)"><ellipse cx="0" cy="-7.69" rx="3.35" ry="5.21" transform="rotate(0)" fill="#f5f6f8" stroke="#e6e9ee" stroke-width="0.4"/><ellipse cx="0" cy="-7.69" rx="3.35" ry="5.21" transform="rotate(45)" fill="#f5f6f8" stroke="#e6e9ee" stroke-width="0.4"/><ellipse cx="0" cy="-7.69" rx="3.35" ry="5.21" transform="rotate(90)" fill="#f5f6f8" stroke="#e6e9ee" stroke-width="0.4"/><ellipse cx="0" cy="-7.69" rx="3.35" ry="5.21" transform="rotate(135)" fill="#f5f6f8" stroke="#e6e9ee" stroke-width="0.4"/><ellipse cx="0" cy="-7.69" rx="3.35" ry="5.21" transform="rotate(180)" fill="#f5f6f8" stroke="#e6e9ee" stroke-width="0.4"/><ellipse cx="0" cy="-7.69" rx="3.35" ry="5.21" transform="rotate(225)" fill="#f5f6f8" stroke="#e6e9ee" stroke-width="0.4"/><ellipse cx="0" cy="-7.69" rx="3.35" ry="5.21" transform="rotate(270)" fill="#f5f6f8" stroke="#e6e9ee" stroke-width="0.4"/><ellipse cx="0" cy="-7.69" rx="3.35" ry="5.21" transform="rotate(315)" fill="#f5f6f8" stroke="#e6e9ee" stroke-width="0.4"/><circle r="5.46" fill="#fbe6c8"/><circle r="3.97" fill="#e9a548"/></g>
<g transform="translate(133.6 112.2) rotate(0)"><ellipse cx="0" cy="-4.96" rx="2.16" ry="3.36" transform="rotate(0)" fill="#f5f6f8" stroke="#e6e9ee" stroke-width="0.4"/><ellipse cx="0" cy="-4.96" rx="2.16" ry="3.36" transform="rotate(45)" fill="#f5f6f8" stroke="#e6e9ee" stroke-width="0.4"/><ellipse cx="0" cy="-4.96" rx="2.16" ry="3.36" transform="rotate(90)" fill="#f5f6f8" stroke="#e6e9ee" stroke-width="0.4"/><ellipse cx="0" cy="-4.96" rx="2.16" ry="3.36" transform="rotate(135)" fill="#f5f6f8" stroke="#e6e9ee" stroke-width="0.4"/><ellipse cx="0" cy="-4.96" rx="2.16" ry="3.36" transform="rotate(180)" fill="#f5f6f8" stroke="#e6e9ee" stroke-width="0.4"/><ellipse cx="0" cy="-4.96" rx="2.16" ry="3.36" transform="rotate(225)" fill="#f5f6f8" stroke="#e6e9ee" stroke-width="0.4"/><ellipse cx="0" cy="-4.96" rx="2.16" ry="3.36" transform="rotate(270)" fill="#f5f6f8" stroke="#e6e9ee" stroke-width="0.4"/><ellipse cx="0" cy="-4.96" rx="2.16" ry="3.36" transform="rotate(315)" fill="#f5f6f8" stroke="#e6e9ee" stroke-width="0.4"/><circle r="3.52" fill="#fbe6c8"/><circle r="2.56" fill="#e9a548"/></g>
<g transform="translate(234.7 53.7) rotate(20)"><ellipse cx="0" cy="-4.34" rx="1.89" ry="2.94" transform="rotate(0)" fill="#f5f6f8" stroke="#e6e9ee" stroke-width="0.4"/><ellipse cx="0" cy="-4.34" rx="1.89" ry="2.94" transform="rotate(45)" fill="#f5f6f8" stroke="#e6e9ee" stroke-width="0.4"/><ellipse cx="0" cy="-4.34" rx="1.89" ry="2.94" transform="rotate(90)" fill="#f5f6f8" stroke="#e6e9ee" stroke-width="0.4"/><ellipse cx="0" cy="-4.34" rx="1.89" ry="2.94" transform="rotate(135)" fill="#f5f6f8" stroke="#e6e9ee" stroke-width="0.4"/><ellipse cx="0" cy="-4.34" rx="1.89" ry="2.94" transform="rotate(180)" fill="#f5f6f8" stroke="#e6e9ee" stroke-width="0.4"/><ellipse cx="0" cy="-4.34" rx="1.89" ry="2.94" transform="rotate(225)" fill="#f5f6f8" stroke="#e6e9ee" stroke-width="0.4"/><ellipse cx="0" cy="-4.34" rx="1.89" ry="2.94" transform="rotate(270)" fill="#f5f6f8" stroke="#e6e9ee" stroke-width="0.4"/><ellipse cx="0" cy="-4.34" rx="1.89" ry="2.94" transform="rotate(315)" fill="#f5f6f8" stroke="#e6e9ee" stroke-width="0.4"/><circle r="3.08" fill="#fbe6c8"/><circle r="2.24" fill="#e9a548"/></g>
<g transform="translate(297.6 64.8) rotate(0)"><ellipse cx="0" cy="-4.65" rx="2.03" ry="3.15" transform="rotate(0)" fill="#f5f6f8" stroke="#e6e9ee" stroke-width="0.4"/><ellipse cx="0" cy="-4.65" rx="2.03" ry="3.15" transform="rotate(45)" fill="#f5f6f8" stroke="#e6e9ee" stroke-width="0.4"/><ellipse cx="0" cy="-4.65" rx="2.03" ry="3.15" transform="rotate(90)" fill="#f5f6f8" stroke="#e6e9ee" stroke-width="0.4"/><ellipse cx="0" cy="-4.65" rx="2.03" ry="3.15" transform="rotate(135)" fill="#f5f6f8" stroke="#e6e9ee" stroke-width="0.4"/><ellipse cx="0" cy="-4.65" rx="2.03" ry="3.15" transform="rotate(180)" fill="#f5f6f8" stroke="#e6e9ee" stroke-width="0.4"/><ellipse cx="0" cy="-4.65" rx="2.03" ry="3.15" transform="rotate(225)" fill="#f5f6f8" stroke="#e6e9ee" stroke-width="0.4"/><ellipse cx="0" cy="-4.65" rx="2.03" ry="3.15" transform="rotate(270)" fill="#f5f6f8" stroke="#e6e9ee" stroke-width="0.4"/><ellipse cx="0" cy="-4.65" rx="2.03" ry="3.15" transform="rotate(315)" fill="#f5f6f8" stroke="#e6e9ee" stroke-width="0.4"/><circle r="3.30" fill="#fbe6c8"/><circle r="2.40" fill="#e9a548"/></g>
<g transform="translate(212.2 97.6) rotate(15)"><ellipse cx="0" cy="-3.72" rx="1.62" ry="2.52" transform="rotate(0)" fill="#f5f6f8" stroke="#e6e9ee" stroke-width="0.4"/><ellipse cx="0" cy="-3.72" rx="1.62" ry="2.52" transform="rotate(45)" fill="#f5f6f8" stroke="#e6e9ee" stroke-width="0.4"/><ellipse cx="0" cy="-3.72" rx="1.62" ry="2.52" transform="rotate(90)" fill="#f5f6f8" stroke="#e6e9ee" stroke-width="0.4"/><ellipse cx="0" cy="-3.72" rx="1.62" ry="2.52" transform="rotate(135)" fill="#f5f6f8" stroke="#e6e9ee" stroke-width="0.4"/><ellipse cx="0" cy="-3.72" rx="1.62" ry="2.52" transform="rotate(180)" fill="#f5f6f8" stroke="#e6e9ee" stroke-width="0.4"/><ellipse cx="0" cy="-3.72" rx="1.62" ry="2.52" transform="rotate(225)" fill="#f5f6f8" stroke="#e6e9ee" stroke-width="0.4"/><ellipse cx="0" cy="-3.72" rx="1.62" ry="2.52" transform="rotate(270)" fill="#f5f6f8" stroke="#e6e9ee" stroke-width="0.4"/><ellipse cx="0" cy="-3.72" rx="1.62" ry="2.52" transform="rotate(315)" fill="#f5f6f8" stroke="#e6e9ee" stroke-width="0.4"/><circle r="2.64" fill="#fbe6c8"/><circle r="1.92" fill="#e9a548"/></g>
<g transform="translate(277.3 107.5) rotate(10)"><ellipse cx="0" cy="-4.65" rx="2.03" ry="3.15" transform="rotate(0)" fill="#f5f6f8" stroke="#e6e9ee" stroke-width="0.4"/><ellipse cx="0" cy="-4.65" rx="2.03" ry="3.15" transform="rotate(45)" fill="#f5f6f8" stroke="#e6e9ee" stroke-width="0.4"/><ellipse cx="0" cy="-4.65" rx="2.03" ry="3.15" transform="rotate(90)" fill="#f5f6f8" stroke="#e6e9ee" stroke-width="0.4"/><ellipse cx="0" cy="-4.65" rx="2.03" ry="3.15" transform="rotate(135)" fill="#f5f6f8" stroke="#e6e9ee" stroke-width="0.4"/><ellipse cx="0" cy="-4.65" rx="2.03" ry="3.15" transform="rotate(180)" fill="#f5f6f8" stroke="#e6e9ee" stroke-width="0.4"/><ellipse cx="0" cy="-4.65" rx="2.03" ry="3.15" transform="rotate(225)" fill="#f5f6f8" stroke="#e6e9ee" stroke-width="0.4"/><ellipse cx="0" cy="-4.65" rx="2.03" ry="3.15" transform="rotate(270)" fill="#f5f6f8" stroke="#e6e9ee" stroke-width="0.4"/><ellipse cx="0" cy="-4.65" rx="2.03" ry="3.15" transform="rotate(315)" fill="#f5f6f8" stroke="#e6e9ee" stroke-width="0.4"/><circle r="3.30" fill="#fbe6c8"/><circle r="2.40" fill="#e9a548"/></g>
<g transform="translate(313.3 126.1) rotate(0)"><ellipse cx="0" cy="-4.03" rx="1.76" ry="2.73" transform="rotate(0)" fill="#f5f6f8" stroke="#e6e9ee" stroke-width="0.4"/><ellipse cx="0" cy="-4.03" rx="1.76" ry="2.73" transform="rotate(45)" fill="#f5f6f8" stroke="#e6e9ee" stroke-width="0.4"/><ellipse cx="0" cy="-4.03" rx="1.76" ry="2.73" transform="rotate(90)" fill="#f5f6f8" stroke="#e6e9ee" stroke-width="0.4"/><ellipse cx="0" cy="-4.03" rx="1.76" ry="2.73" transform="rotate(135)" fill="#f5f6f8" stroke="#e6e9ee" stroke-width="0.4"/><ellipse cx="0" cy="-4.03" rx="1.76" ry="2.73" transform="rotate(180)" fill="#f5f6f8" stroke="#e6e9ee" stroke-width="0.4"/><ellipse cx="0" cy="-4.03" rx="1.76" ry="2.73" transform="rotate(225)" fill="#f5f6f8" stroke="#e6e9ee" stroke-width="0.4"/><ellipse cx="0" cy="-4.03" rx="1.76" ry="2.73" transform="rotate(270)" fill="#f5f6f8" stroke="#e6e9ee" stroke-width="0.4"/><ellipse cx="0" cy="-4.03" rx="1.76" ry="2.73" transform="rotate(315)" fill="#f5f6f8" stroke="#e6e9ee" stroke-width="0.4"/><circle r="2.86" fill="#fbe6c8"/><circle r="2.08" fill="#e9a548"/></g>
<g transform="translate(131.0 165.6) rotate(20)"><ellipse cx="0" cy="-4.34" rx="1.89" ry="2.94" transform="rotate(0)" fill="#f5f6f8" stroke="#e6e9ee" stroke-width="0.4"/><ellipse cx="0" cy="-4.34" rx="1.89" ry="2.94" transform="rotate(45)" fill="#f5f6f8" stroke="#e6e9ee" stroke-width="0.4"/><ellipse cx="0" cy="-4.34" rx="1.89" ry="2.94" transform="rotate(90)" fill="#f5f6f8" stroke="#e6e9ee" stroke-width="0.4"/><ellipse cx="0" cy="-4.34" rx="1.89" ry="2.94" transform="rotate(135)" fill="#f5f6f8" stroke="#e6e9ee" stroke-width="0.4"/><ellipse cx="0" cy="-4.34" rx="1.89" ry="2.94" transform="rotate(180)" fill="#f5f6f8" stroke="#e6e9ee" stroke-width="0.4"/><ellipse cx="0" cy="-4.34" rx="1.89" ry="2.94" transform="rotate(225)" fill="#f5f6f8" stroke="#e6e9ee" stroke-width="0.4"/><ellipse cx="0" cy="-4.34" rx="1.89" ry="2.94" transform="rotate(270)" fill="#f5f6f8" stroke="#e6e9ee" stroke-width="0.4"/><ellipse cx="0" cy="-4.34" rx="1.89" ry="2.94" transform="rotate(315)" fill="#f5f6f8" stroke="#e6e9ee" stroke-width="0.4"/><circle r="3.08" fill="#fbe6c8"/><circle r="2.24" fill="#e9a548"/></g>
<g transform="translate(310.7 182.2) rotate(0)"><ellipse cx="0" cy="-4.96" rx="2.16" ry="3.36" transform="rotate(0)" fill="#f5f6f8" stroke="#e6e9ee" stroke-width="0.4"/><ellipse cx="0" cy="-4.96" rx="2.16" ry="3.36" transform="rotate(45)" fill="#f5f6f8" stroke="#e6e9ee" stroke-width="0.4"/><ellipse cx="0" cy="-4.96" rx="2.16" ry="3.36" transform="rotate(90)" fill="#f5f6f8" stroke="#e6e9ee" stroke-width="0.4"/><ellipse cx="0" cy="-4.96" rx="2.16" ry="3.36" transform="rotate(135)" fill="#f5f6f8" stroke="#e6e9ee" stroke-width="0.4"/><ellipse cx="0" cy="-4.96" rx="2.16" ry="3.36" transform="rotate(180)" fill="#f5f6f8" stroke="#e6e9ee" stroke-width="0.4"/><ellipse cx="0" cy="-4.96" rx="2.16" ry="3.36" transform="rotate(225)" fill="#f5f6f8" stroke="#e6e9ee" stroke-width="0.4"/><ellipse cx="0" cy="-4.96" rx="2.16" ry="3.36" transform="rotate(270)" fill="#f5f6f8" stroke="#e6e9ee" stroke-width="0.4"/><ellipse cx="0" cy="-4.96" rx="2.16" ry="3.36" transform="rotate(315)" fill="#f5f6f8" stroke="#e6e9ee" stroke-width="0.4"/><circle r="3.52" fill="#fbe6c8"/><circle r="2.56" fill="#e9a548"/></g>
<g transform="translate(229.3 207.6) rotate(0)"><ellipse cx="0" cy="-3.72" rx="1.62" ry="2.52" transform="rotate(0)" fill="#f5f6f8" stroke="#e6e9ee" stroke-width="0.4"/><ellipse cx="0" cy="-3.72" rx="1.62" ry="2.52" transform="rotate(45)" fill="#f5f6f8" stroke="#e6e9ee" stroke-width="0.4"/><ellipse cx="0" cy="-3.72" rx="1.62" ry="2.52" transform="rotate(90)" fill="#f5f6f8" stroke="#e6e9ee" stroke-width="0.4"/><ellipse cx="0" cy="-3.72" rx="1.62" ry="2.52" transform="rotate(135)" fill="#f5f6f8" stroke="#e6e9ee" stroke-width="0.4"/><ellipse cx="0" cy="-3.72" rx="1.62" ry="2.52" transform="rotate(180)" fill="#f5f6f8" stroke="#e6e9ee" stroke-width="0.4"/><ellipse cx="0" cy="-3.72" rx="1.62" ry="2.52" transform="rotate(225)" fill="#f5f6f8" stroke="#e6e9ee" stroke-width="0.4"/><ellipse cx="0" cy="-3.72" rx="1.62" ry="2.52" transform="rotate(270)" fill="#f5f6f8" stroke="#e6e9ee" stroke-width="0.4"/><ellipse cx="0" cy="-3.72" rx="1.62" ry="2.52" transform="rotate(315)" fill="#f5f6f8" stroke="#e6e9ee" stroke-width="0.4"/><circle r="2.64" fill="#fbe6c8"/><circle r="1.92" fill="#e9a548"/></g>
<!-- duck 1 : Z1 [115,40,250,175] -->
<g transform="translate(115 40) scale(0.13184)">
 <g fill="#f2ad74">
  <path d="M463 913 L497 913 C494 945 498 968 510 980 C525 990 545 990 557 998 C555 1020 530 1040 503 1037 C480 1030 462 1005 463 913 Z"/>
  <path d="M325 925 L358 930 L352 985 L322 985 Z"/>
 </g>
 <path fill="url(#fillA2a)" stroke="#d5b7a7" stroke-width="11" stroke-linejoin="round" d="M640 60 C700 60 722 105 716 142 L696 236 C660 246 628 268 620 310 C612 370 630 440 655 500 C678 560 694 610 702 660 L700 760 C680 830 630 865 590 878 C540 915 470 940 400 937 C320 930 240 895 180 850 C150 822 118 805 100 785 C84 765 90 745 90 735 C84 715 90 695 100 683 C125 680 145 690 165 688 C225 652 300 615 380 580 C440 550 488 505 495 450 C498 400 478 340 478 290 C478 200 515 105 575 78 C595 66 620 60 640 60 Z"/>
 <path fill="#f2a262" d="M716 138 C745 160 785 185 812 196 C826 206 824 226 810 232 C775 244 730 244 694 238 C690 200 700 165 716 138 Z"/>
 <circle cx="645" cy="173" r="11" fill="#2d2a28"/>
 <path fill="none" stroke="#dac0b2" stroke-width="9" stroke-linecap="round" d="M515 622 C532 680 505 728 445 762 C400 788 350 810 310 806 M195 700 C220 745 262 765 300 762 C318 748 330 722 334 700 C350 730 372 745 392 742 C400 735 408 722 410 712 M240 780 C265 800 292 808 312 806 M165 690 C170 720 180 745 200 760 M100 712 L150 716 M95 745 L155 748"/>
</g>
<!-- duck 2 : Z2 [215,60,335,180] -->
<g transform="translate(170 115) scale(0.13184)" fill="#f2ad74">
 <path d="M775 468 L812 474 C814 500 802 522 782 536 C766 546 745 546 731 536 C727 520 744 510 760 505 C770 495 775 485 775 468 Z"/>
 <path d="M865 476 L902 480 C907 510 897 542 876 562 C860 576 830 576 811 560 C809 545 830 535 848 530 C860 515 865 500 865 476 Z"/>
</g>
<g transform="translate(215 60) scale(0.11719)">
 <path fill="url(#fillA2b)" stroke="#d5b7a7" stroke-width="12.5" stroke-linejoin="round" d="M300 80 C360 82 415 130 428 200 C438 270 415 340 410 420 C408 470 430 510 470 540 C540 580 640 640 740 718 C765 735 790 745 805 745 C825 730 850 722 865 728 C885 745 880 775 870 795 C850 850 800 905 730 955 C670 985 580 995 500 990 C450 985 420 950 415 900 L300 800 L235 790 C205 740 200 660 210 600 C225 540 265 470 285 410 C295 370 295 340 290 315 C270 300 240 285 213 272 L187 172 C205 120 250 80 300 80 Z"/>
 <path fill="#f2a262" d="M187 170 C160 198 122 232 90 244 C76 254 78 274 92 278 C130 286 175 280 213 272 C215 235 205 200 187 170 Z"/>
 <circle cx="262" cy="190" r="12" fill="#2d2a28"/>
 <path fill="none" stroke="#d5b7a7" stroke-width="11" stroke-linecap="round" d="M395 680 C398 760 450 835 545 862 C575 860 600 850 615 835 C650 840 680 825 700 805 C735 800 765 780 785 755 M470 740 C500 790 540 815 580 820 M560 720 C590 765 630 785 665 790 M640 700 C670 735 700 750 735 752"/>
</g>
<!-- basket : Z4 [115,155,200,240] -->
<g transform="translate(115 155) scale(0.08301)">
 <path fill="none" stroke="#dba266" stroke-width="48" stroke-linecap="round" d="M228 575 C200 420 260 240 400 170 C520 120 650 230 692 420"/>
 <path fill="none" stroke="#f5d3a4" stroke-width="20" stroke-linecap="butt" stroke-dasharray="28 18" d="M228 575 C200 420 260 240 400 170 C520 120 650 230 692 420"/>
 <g fill="#9ab3a6">
  <ellipse cx="125" cy="315" rx="56" ry="28" transform="rotate(40 125 315)"/>
  <ellipse cx="195" cy="320" rx="47" ry="24" transform="rotate(-70 195 320)"/>
  <ellipse cx="130" cy="410" rx="52" ry="28" transform="rotate(10 130 410)"/>
  <ellipse cx="175" cy="515" rx="69" ry="38" transform="rotate(-15 175 515)"/>
  <ellipse cx="350" cy="310" rx="50" ry="24" transform="rotate(70 350 310)"/>
  <ellipse cx="415" cy="275" rx="54" ry="24" transform="rotate(-75 415 275)"/>
  <ellipse cx="440" cy="335" rx="45" ry="21" transform="rotate(-30 440 335)"/>
  <ellipse cx="720" cy="310" rx="47" ry="24" transform="rotate(-55 720 310)"/>
  <ellipse cx="690" cy="390" rx="50" ry="24" transform="rotate(70 690 390)"/>
  <ellipse cx="735" cy="400" rx="40" ry="20" transform="rotate(-35 735 400)"/>
  <ellipse cx="782" cy="548" rx="43" ry="20" transform="rotate(-25 782 548)"/>
  <ellipse cx="640" cy="640" rx="56" ry="31" transform="rotate(30 640 640)"/>
  <ellipse cx="395" cy="600" rx="45" ry="20" transform="rotate(-55 395 600)"/>
  <ellipse cx="250" cy="590" rx="45" ry="21" transform="rotate(20 250 590)"/>
 </g>
 <path fill="none" stroke="#7f9b8d" stroke-width="10" d="M185 300 C190 400 230 480 262 560 M400 300 L395 380 M705 330 C700 400 690 440 680 480"/>
 <path fill="url(#weave)" stroke="#cf9d66" stroke-width="13" stroke-linejoin="round" d="M205 592 C300 605 500 650 712 645 C712 720 680 800 600 855 C540 890 420 895 360 865 C270 820 215 720 205 592 Z"/>
</g>
<!-- duck 3 & 4 : Z3 [170,115,305,250] -->
<g transform="translate(170 115) scale(0.13184)">
 <g fill="#f2ad74">
  <path d="M140 793 L170 793 C168 820 176 838 196 845 C216 848 231 852 233 862 C226 880 200 893 175 889 C150 880 135 850 140 793 Z"/>
  <path d="M238 776 L266 768 C269 795 286 808 306 812 C321 815 333 820 331 832 C321 850 290 856 265 849 C245 835 235 810 238 776 Z"/>
  <path d="M614 826 C640 823 670 826 692 834 C687 856 660 872 634 872 C616 863 606 845 614 826 Z"/>
  <path d="M719 849 C745 843 780 846 802 857 C802 880 776 907 745 907 C724 896 714 870 719 849 Z"/>
 </g>
 <path fill="url(#fillA2a)" stroke="#d5b7a7" stroke-width="11" stroke-linejoin="round" d="M300 90 C350 88 395 125 408 175 L412 205 L352 268 C320 275 298 295 296 320 C300 360 330 400 355 435 C380 480 392 540 385 600 C375 670 335 730 280 765 C230 790 160 800 100 790 C55 780 25 745 25 700 C28 650 50 610 80 575 C130 525 170 470 178 420 C185 370 175 320 178 270 C180 200 200 140 240 110 C258 96 280 90 300 90 Z"/>
 <path fill="#f2a262" d="M385 206 C415 232 452 260 472 282 C482 296 474 312 458 312 C425 308 385 294 352 270 C355 245 365 225 385 206 Z"/>
 <circle cx="337" cy="212" r="11" fill="#2d2a28"/>
 <path fill="none" stroke="#dac0b2" stroke-width="9" stroke-linecap="round" d="M246 530 C244 590 205 640 150 672 C115 688 80 692 48 686 M205 600 C200 620 192 635 180 648"/>
 <path fill="url(#fillA2a)" stroke="#d5b7a7" stroke-width="11" stroke-linejoin="round" d="M590 290 C640 290 690 330 708 385 C720 430 712 480 728 515 C745 545 790 555 830 575 C880 600 930 640 972 680 C982 700 975 720 965 735 C945 780 900 815 845 832 C790 848 700 848 640 822 C590 800 550 750 542 690 C535 630 555 580 580 545 C592 525 594 505 588 490 L555 470 L490 415 C495 380 510 340 540 312 C555 298 572 290 590 290 Z"/>
 <path fill="#f2a262" d="M490 411 C470 438 443 466 428 482 C420 496 430 510 446 509 C482 506 522 496 556 474 C546 440 520 420 490 411 Z"/>
 <circle cx="562" cy="410" r="11" fill="#2d2a28"/>
 <path fill="none" stroke="#dac0b2" stroke-width="9" stroke-linecap="round" d="M680 668 C688 715 735 750 800 752 C860 752 915 735 955 700 M760 740 C775 720 800 712 815 722 C830 705 855 700 870 712 C885 698 905 695 920 705"/>
</g>
<!-- butterfly : Z5 [245,35,295,85] -->
<g transform="translate(245 35) scale(0.04883)">
 <g fill="#bcd0dd" stroke="#93adbe" stroke-width="34" stroke-linejoin="round">
  <ellipse cx="460" cy="668" rx="78" ry="72"/>
  <ellipse cx="632" cy="560" rx="76" ry="70"/>
  <path d="M470 500 C420 400 330 340 250 360 C170 385 130 470 165 540 C200 610 300 640 400 610 C450 595 490 560 510 540 Z"/>
  <path d="M440 360 C430 280 480 190 560 180 C640 180 690 260 690 350 C690 430 640 490 560 510 Z"/>
 </g>
 <path fill="none" stroke="#856c63" stroke-width="30" stroke-linecap="round" d="M392 295 L522 550"/>
 <path fill="none" stroke="#8b7268" stroke-width="10" stroke-linecap="round" d="M395 300 L340 318"/>
</g>

<g transform="translate(145.3 191.5) rotate(0)"><ellipse cx="0" cy="-4.09" rx="1.78" ry="2.77" transform="rotate(0)" fill="#f5f6f8" stroke="#e6e9ee" stroke-width="0.4"/><ellipse cx="0" cy="-4.09" rx="1.78" ry="2.77" transform="rotate(45)" fill="#f5f6f8" stroke="#e6e9ee" stroke-width="0.4"/><ellipse cx="0" cy="-4.09" rx="1.78" ry="2.77" transform="rotate(90)" fill="#f5f6f8" stroke="#e6e9ee" stroke-width="0.4"/><ellipse cx="0" cy="-4.09" rx="1.78" ry="2.77" transform="rotate(135)" fill="#f5f6f8" stroke="#e6e9ee" stroke-width="0.4"/><ellipse cx="0" cy="-4.09" rx="1.78" ry="2.77" transform="rotate(180)" fill="#f5f6f8" stroke="#e6e9ee" stroke-width="0.4"/><ellipse cx="0" cy="-4.09" rx="1.78" ry="2.77" transform="rotate(225)" fill="#f5f6f8" stroke="#e6e9ee" stroke-width="0.4"/><ellipse cx="0" cy="-4.09" rx="1.78" ry="2.77" transform="rotate(270)" fill="#f5f6f8" stroke="#e6e9ee" stroke-width="0.4"/><ellipse cx="0" cy="-4.09" rx="1.78" ry="2.77" transform="rotate(315)" fill="#f5f6f8" stroke="#e6e9ee" stroke-width="0.4"/><circle r="2.90" fill="#fbe6c8"/><circle r="2.11" fill="#e9a548"/></g><g transform="translate(160.2 190.3) rotate(20)"><ellipse cx="0" cy="-4.46" rx="1.94" ry="3.02" transform="rotate(0)" fill="#f5f6f8" stroke="#e6e9ee" stroke-width="0.4"/><ellipse cx="0" cy="-4.46" rx="1.94" ry="3.02" transform="rotate(45)" fill="#f5f6f8" stroke="#e6e9ee" stroke-width="0.4"/><ellipse cx="0" cy="-4.46" rx="1.94" ry="3.02" transform="rotate(90)" fill="#f5f6f8" stroke="#e6e9ee" stroke-width="0.4"/><ellipse cx="0" cy="-4.46" rx="1.94" ry="3.02" transform="rotate(135)" fill="#f5f6f8" stroke="#e6e9ee" stroke-width="0.4"/><ellipse cx="0" cy="-4.46" rx="1.94" ry="3.02" transform="rotate(180)" fill="#f5f6f8" stroke="#e6e9ee" stroke-width="0.4"/><ellipse cx="0" cy="-4.46" rx="1.94" ry="3.02" transform="rotate(225)" fill="#f5f6f8" stroke="#e6e9ee" stroke-width="0.4"/><ellipse cx="0" cy="-4.46" rx="1.94" ry="3.02" transform="rotate(270)" fill="#f5f6f8" stroke="#e6e9ee" stroke-width="0.4"/><ellipse cx="0" cy="-4.46" rx="1.94" ry="3.02" transform="rotate(315)" fill="#f5f6f8" stroke="#e6e9ee" stroke-width="0.4"/><circle r="3.17" fill="#fbe6c8"/><circle r="2.30" fill="#e9a548"/></g><g transform="translate(155.7 204.8) rotate(0)"><ellipse cx="0" cy="-3.22" rx="1.40" ry="2.18" transform="rotate(0)" fill="#f5f6f8" stroke="#e6e9ee" stroke-width="0.4"/><ellipse cx="0" cy="-3.22" rx="1.40" ry="2.18" transform="rotate(45)" fill="#f5f6f8" stroke="#e6e9ee" stroke-width="0.4"/><ellipse cx="0" cy="-3.22" rx="1.40" ry="2.18" transform="rotate(90)" fill="#f5f6f8" stroke="#e6e9ee" stroke-width="0.4"/><ellipse cx="0" cy="-3.22" rx="1.40" ry="2.18" transform="rotate(135)" fill="#f5f6f8" stroke="#e6e9ee" stroke-width="0.4"/><ellipse cx="0" cy="-3.22" rx="1.40" ry="2.18" transform="rotate(180)" fill="#f5f6f8" stroke="#e6e9ee" stroke-width="0.4"/><ellipse cx="0" cy="-3.22" rx="1.40" ry="2.18" transform="rotate(225)" fill="#f5f6f8" stroke="#e6e9ee" stroke-width="0.4"/><ellipse cx="0" cy="-3.22" rx="1.40" ry="2.18" transform="rotate(270)" fill="#f5f6f8" stroke="#e6e9ee" stroke-width="0.4"/><ellipse cx="0" cy="-3.22" rx="1.40" ry="2.18" transform="rotate(315)" fill="#f5f6f8" stroke="#e6e9ee" stroke-width="0.4"/><circle r="2.29" fill="#fbe6c8"/><circle r="1.66" fill="#e9a548"/></g><g transform="translate(173.1 201.1) rotate(10)"><ellipse cx="0" cy="-2.98" rx="1.30" ry="2.02" transform="rotate(0)" fill="#f5f6f8" stroke="#e6e9ee" stroke-width="0.4"/><ellipse cx="0" cy="-2.98" rx="1.30" ry="2.02" transform="rotate(45)" fill="#f5f6f8" stroke="#e6e9ee" stroke-width="0.4"/><ellipse cx="0" cy="-2.98" rx="1.30" ry="2.02" transform="rotate(90)" fill="#f5f6f8" stroke="#e6e9ee" stroke-width="0.4"/><ellipse cx="0" cy="-2.98" rx="1.30" ry="2.02" transform="rotate(135)" fill="#f5f6f8" stroke="#e6e9ee" stroke-width="0.4"/><ellipse cx="0" cy="-2.98" rx="1.30" ry="2.02" transform="rotate(180)" fill="#f5f6f8" stroke="#e6e9ee" stroke-width="0.4"/><ellipse cx="0" cy="-2.98" rx="1.30" ry="2.02" transform="rotate(225)" fill="#f5f6f8" stroke="#e6e9ee" stroke-width="0.4"/><ellipse cx="0" cy="-2.98" rx="1.30" ry="2.02" transform="rotate(270)" fill="#f5f6f8" stroke="#e6e9ee" stroke-width="0.4"/><ellipse cx="0" cy="-2.98" rx="1.30" ry="2.02" transform="rotate(315)" fill="#f5f6f8" stroke="#e6e9ee" stroke-width="0.4"/><circle r="2.11" fill="#fbe6c8"/><circle r="1.54" fill="#e9a548"/></g>
</g>
<g id="artB1" filter="url(#soft)">
<g fill="none" stroke="#7f9b8d" stroke-width="1.3" stroke-linecap="round">
<path d="M310.5 187 C309 200 305 213 301.6 226"/>
<path d="M229.2 211 L229.7 224"/>
<path d="M146 98 C147.5 102 148.8 106 149 111.2"/>
<path d="M155.9 104.8 C158.5 99 162 92 165.1 84.7 C166.5 81 167.5 78 168.2 76"/>
<path d="M226.4 132.3 C227 122 229.5 113 232.3 106"/>
<path d="M282.4 78 C290 92 298 106 304.7 124.5"/>
<path d="M162.5 64.4 L164 60"/>
</g>
<ellipse cx="165.2" cy="56.8" rx="2.1" ry="4.3" transform="rotate(25 165.2 56.8)" fill="#9ab3a6"/><ellipse cx="139.6" cy="92.6" rx="8.2" ry="3.7" transform="rotate(38 139.6 92.6)" fill="#9ab3a6"/><ellipse cx="150.2" cy="95.2" rx="4.8" ry="2.4" transform="rotate(-68 150.2 95.2)" fill="#9ab3a6"/><ellipse cx="167.8" cy="77.3" rx="3.4" ry="1.7" transform="rotate(-73 167.8 77.3)" fill="#9ab3a6"/><ellipse cx="163.8" cy="80.6" rx="3.2" ry="1.7" transform="rotate(-112 163.8 80.6)" fill="#9ab3a6"/><ellipse cx="168.5" cy="83.4" rx="3.3" ry="1.7" transform="rotate(-20 168.5 83.4)" fill="#9ab3a6"/><ellipse cx="160.6" cy="87.3" rx="3.9" ry="1.7" transform="rotate(-118 160.6 87.3)" fill="#9ab3a6"/><ellipse cx="166.8" cy="89.2" rx="4.1" ry="1.7" transform="rotate(-23 166.8 89.2)" fill="#9ab3a6"/><ellipse cx="158.2" cy="93.2" rx="3.9" ry="1.7" transform="rotate(-125 158.2 93.2)" fill="#9ab3a6"/><ellipse cx="163.9" cy="97.2" rx="4.3" ry="1.7" transform="rotate(-19 163.9 97.2)" fill="#9ab3a6"/><ellipse cx="222.4" cy="120.7" rx="3.5" ry="2.1" transform="rotate(70 222.4 120.7)" fill="#9ab3a6"/><ellipse cx="231.3" cy="122.0" rx="3.5" ry="2.1" transform="rotate(-25 231.3 122.0)" fill="#9ab3a6"/><ellipse cx="226.8" cy="112.2" rx="3.5" ry="2.1" transform="rotate(65 226.8 112.2)" fill="#9ab3a6"/><ellipse cx="233.1" cy="114.5" rx="3.5" ry="2.1" transform="rotate(-35 233.1 114.5)" fill="#9ab3a6"/><ellipse cx="232.6" cy="107.9" rx="3.5" ry="2.1" transform="rotate(-60 232.6 107.9)" fill="#9ab3a6"/><ellipse cx="293.0" cy="85.1" rx="5.1" ry="2.7" transform="rotate(-61 293.0 85.1)" fill="#9ab3a6"/><ellipse cx="300.0" cy="95.0" rx="5.8" ry="2.7" transform="rotate(-59 300.0 95.0)" fill="#9ab3a6"/><ellipse cx="304.2" cy="107.3" rx="5.8" ry="2.7" transform="rotate(-62 304.2 107.3)" fill="#9ab3a6"/><ellipse cx="283.7" cy="80.5" rx="4.8" ry="2.7" transform="rotate(-129 283.7 80.5)" fill="#9ab3a6"/><ellipse cx="286.1" cy="91.5" rx="5.5" ry="2.7" transform="rotate(-156 286.1 91.5)" fill="#9ab3a6"/><ellipse cx="292.3" cy="101.7" rx="5.3" ry="2.7" transform="rotate(-152 292.3 101.7)" fill="#9ab3a6"/><ellipse cx="296.5" cy="111.7" rx="5.3" ry="2.7" transform="rotate(-159 296.5 111.7)" fill="#9ab3a6"/><ellipse cx="313.2" cy="201.5" rx="6.7" ry="2.2" transform="rotate(-40 313.2 201.5)" fill="#9ab3a6"/><ellipse cx="305.1" cy="200.7" rx="4.7" ry="2.1" transform="rotate(-120 305.1 200.7)" fill="#9ab3a6"/><ellipse cx="310.0" cy="216.0" rx="6.7" ry="2.2" transform="rotate(-40 310.0 216.0)" fill="#9ab3a6"/><ellipse cx="301.4" cy="217.6" rx="4.7" ry="2.0" transform="rotate(-113 301.4 217.6)" fill="#9ab3a6"/><ellipse cx="225.6" cy="220.6" rx="5.6" ry="2.0" transform="rotate(-134 225.6 220.6)" fill="#9ab3a6"/><ellipse cx="232.9" cy="220.4" rx="5.4" ry="2.0" transform="rotate(-50 232.9 220.4)" fill="#9ab3a6"/>
<g transform="translate(147.1 70.0) rotate(10)"><ellipse cx="0" cy="-7.69" rx="3.35" ry="5.21" transform="rotate(0)" fill="#f5f6f8" stroke="#e6e9ee" stroke-width="0.4"/><ellipse cx="0" cy="-7.69" rx="3.35" ry="5.21" transform="rotate(45)" fill="#f5f6f8" stroke="#e6e9ee" stroke-width="0.4"/><ellipse cx="0" cy="-7.69" rx="3.35" ry="5.21" transform="rotate(90)" fill="#f5f6f8" stroke="#e6e9ee" stroke-width="0.4"/><ellipse cx="0" cy="-7.69" rx="3.35" ry="5.21" transform="rotate(135)" fill="#f5f6f8" stroke="#e6e9ee" stroke-width="0.4"/><ellipse cx="0" cy="-7.69" rx="3.35" ry="5.21" transform="rotate(180)" fill="#f5f6f8" stroke="#e6e9ee" stroke-width="0.4"/><ellipse cx="0" cy="-7.69" rx="3.35" ry="5.21" transform="rotate(225)" fill="#f5f6f8" stroke="#e6e9ee" stroke-width="0.4"/><ellipse cx="0" cy="-7.69" rx="3.35" ry="5.21" transform="rotate(270)" fill="#f5f6f8" stroke="#e6e9ee" stroke-width="0.4"/><ellipse cx="0" cy="-7.69" rx="3.35" ry="5.21" transform="rotate(315)" fill="#f5f6f8" stroke="#e6e9ee" stroke-width="0.4"/><circle r="5.46" fill="#fbe6c8"/><circle r="3.97" fill="#e9a548"/></g>
<g transform="translate(133.6 112.2) rotate(0)"><ellipse cx="0" cy="-4.96" rx="2.16" ry="3.36" transform="rotate(0)" fill="#f5f6f8" stroke="#e6e9ee" stroke-width="0.4"/><ellipse cx="0" cy="-4.96" rx="2.16" ry="3.36" transform="rotate(45)" fill="#f5f6f8" stroke="#e6e9ee" stroke-width="0.4"/><ellipse cx="0" cy="-4.96" rx="2.16" ry="3.36" transform="rotate(90)" fill="#f5f6f8" stroke="#e6e9ee" stroke-width="0.4"/><ellipse cx="0" cy="-4.96" rx="2.16" ry="3.36" transform="rotate(135)" fill="#f5f6f8" stroke="#e6e9ee" stroke-width="0.4"/><ellipse cx="0" cy="-4.96" rx="2.16" ry="3.36" transform="rotate(180)" fill="#f5f6f8" stroke="#e6e9ee" stroke-width="0.4"/><ellipse cx="0" cy="-4.96" rx="2.16" ry="3.36" transform="rotate(225)" fill="#f5f6f8" stroke="#e6e9ee" stroke-width="0.4"/><ellipse cx="0" cy="-4.96" rx="2.16" ry="3.36" transform="rotate(270)" fill="#f5f6f8" stroke="#e6e9ee" stroke-width="0.4"/><ellipse cx="0" cy="-4.96" rx="2.16" ry="3.36" transform="rotate(315)" fill="#f5f6f8" stroke="#e6e9ee" stroke-width="0.4"/><circle r="3.52" fill="#fbe6c8"/><circle r="2.56" fill="#e9a548"/></g>
<g transform="translate(234.7 53.7) rotate(20)"><ellipse cx="0" cy="-4.34" rx="1.89" ry="2.94" transform="rotate(0)" fill="#f5f6f8" stroke="#e6e9ee" stroke-width="0.4"/><ellipse cx="0" cy="-4.34" rx="1.89" ry="2.94" transform="rotate(45)" fill="#f5f6f8" stroke="#e6e9ee" stroke-width="0.4"/><ellipse cx="0" cy="-4.34" rx="1.89" ry="2.94" transform="rotate(90)" fill="#f5f6f8" stroke="#e6e9ee" stroke-width="0.4"/><ellipse cx="0" cy="-4.34" rx="1.89" ry="2.94" transform="rotate(135)" fill="#f5f6f8" stroke="#e6e9ee" stroke-width="0.4"/><ellipse cx="0" cy="-4.34" rx="1.89" ry="2.94" transform="rotate(180)" fill="#f5f6f8" stroke="#e6e9ee" stroke-width="0.4"/><ellipse cx="0" cy="-4.34" rx="1.89" ry="2.94" transform="rotate(225)" fill="#f5f6f8" stroke="#e6e9ee" stroke-width="0.4"/><ellipse cx="0" cy="-4.34" rx="1.89" ry="2.94" transform="rotate(270)" fill="#f5f6f8" stroke="#e6e9ee" stroke-width="0.4"/><ellipse cx="0" cy="-4.34" rx="1.89" ry="2.94" transform="rotate(315)" fill="#f5f6f8" stroke="#e6e9ee" stroke-width="0.4"/><circle r="3.08" fill="#fbe6c8"/><circle r="2.24" fill="#e9a548"/></g>
<g transform="translate(297.6 64.8) rotate(0)"><ellipse cx="0" cy="-4.65" rx="2.03" ry="3.15" transform="rotate(0)" fill="#f5f6f8" stroke="#e6e9ee" stroke-width="0.4"/><ellipse cx="0" cy="-4.65" rx="2.03" ry="3.15" transform="rotate(45)" fill="#f5f6f8" stroke="#e6e9ee" stroke-width="0.4"/><ellipse cx="0" cy="-4.65" rx="2.03" ry="3.15" transform="rotate(90)" fill="#f5f6f8" stroke="#e6e9ee" stroke-width="0.4"/><ellipse cx="0" cy="-4.65" rx="2.03" ry="3.15" transform="rotate(135)" fill="#f5f6f8" stroke="#e6e9ee" stroke-width="0.4"/><ellipse cx="0" cy="-4.65" rx="2.03" ry="3.15" transform="rotate(180)" fill="#f5f6f8" stroke="#e6e9ee" stroke-width="0.4"/><ellipse cx="0" cy="-4.65" rx="2.03" ry="3.15" transform="rotate(225)" fill="#f5f6f8" stroke="#e6e9ee" stroke-width="0.4"/><ellipse cx="0" cy="-4.65" rx="2.03" ry="3.15" transform="rotate(270)" fill="#f5f6f8" stroke="#e6e9ee" stroke-width="0.4"/><ellipse cx="0" cy="-4.65" rx="2.03" ry="3.15" transform="rotate(315)" fill="#f5f6f8" stroke="#e6e9ee" stroke-width="0.4"/><circle r="3.30" fill="#fbe6c8"/><circle r="2.40" fill="#e9a548"/></g>
<g transform="translate(212.2 97.6) rotate(15)"><ellipse cx="0" cy="-3.72" rx="1.62" ry="2.52" transform="rotate(0)" fill="#f5f6f8" stroke="#e6e9ee" stroke-width="0.4"/><ellipse cx="0" cy="-3.72" rx="1.62" ry="2.52" transform="rotate(45)" fill="#f5f6f8" stroke="#e6e9ee" stroke-width="0.4"/><ellipse cx="0" cy="-3.72" rx="1.62" ry="2.52" transform="rotate(90)" fill="#f5f6f8" stroke="#e6e9ee" stroke-width="0.4"/><ellipse cx="0" cy="-3.72" rx="1.62" ry="2.52" transform="rotate(135)" fill="#f5f6f8" stroke="#e6e9ee" stroke-width="0.4"/><ellipse cx="0" cy="-3.72" rx="1.62" ry="2.52" transform="rotate(180)" fill="#f5f6f8" stroke="#e6e9ee" stroke-width="0.4"/><ellipse cx="0" cy="-3.72" rx="1.62" ry="2.52" transform="rotate(225)" fill="#f5f6f8" stroke="#e6e9ee" stroke-width="0.4"/><ellipse cx="0" cy="-3.72" rx="1.62" ry="2.52" transform="rotate(270)" fill="#f5f6f8" stroke="#e6e9ee" stroke-width="0.4"/><ellipse cx="0" cy="-3.72" rx="1.62" ry="2.52" transform="rotate(315)" fill="#f5f6f8" stroke="#e6e9ee" stroke-width="0.4"/><circle r="2.64" fill="#fbe6c8"/><circle r="1.92" fill="#e9a548"/></g>
<g transform="translate(277.3 107.5) rotate(10)"><ellipse cx="0" cy="-4.65" rx="2.03" ry="3.15" transform="rotate(0)" fill="#f5f6f8" stroke="#e6e9ee" stroke-width="0.4"/><ellipse cx="0" cy="-4.65" rx="2.03" ry="3.15" transform="rotate(45)" fill="#f5f6f8" stroke="#e6e9ee" stroke-width="0.4"/><ellipse cx="0" cy="-4.65" rx="2.03" ry="3.15" transform="rotate(90)" fill="#f5f6f8" stroke="#e6e9ee" stroke-width="0.4"/><ellipse cx="0" cy="-4.65" rx="2.03" ry="3.15" transform="rotate(135)" fill="#f5f6f8" stroke="#e6e9ee" stroke-width="0.4"/><ellipse cx="0" cy="-4.65" rx="2.03" ry="3.15" transform="rotate(180)" fill="#f5f6f8" stroke="#e6e9ee" stroke-width="0.4"/><ellipse cx="0" cy="-4.65" rx="2.03" ry="3.15" transform="rotate(225)" fill="#f5f6f8" stroke="#e6e9ee" stroke-width="0.4"/><ellipse cx="0" cy="-4.65" rx="2.03" ry="3.15" transform="rotate(270)" fill="#f5f6f8" stroke="#e6e9ee" stroke-width="0.4"/><ellipse cx="0" cy="-4.65" rx="2.03" ry="3.15" transform="rotate(315)" fill="#f5f6f8" stroke="#e6e9ee" stroke-width="0.4"/><circle r="3.30" fill="#fbe6c8"/><circle r="2.40" fill="#e9a548"/></g>
<g transform="translate(313.3 126.1) rotate(0)"><ellipse cx="0" cy="-4.03" rx="1.76" ry="2.73" transform="rotate(0)" fill="#f5f6f8" stroke="#e6e9ee" stroke-width="0.4"/><ellipse cx="0" cy="-4.03" rx="1.76" ry="2.73" transform="rotate(45)" fill="#f5f6f8" stroke="#e6e9ee" stroke-width="0.4"/><ellipse cx="0" cy="-4.03" rx="1.76" ry="2.73" transform="rotate(90)" fill="#f5f6f8" stroke="#e6e9ee" stroke-width="0.4"/><ellipse cx="0" cy="-4.03" rx="1.76" ry="2.73" transform="rotate(135)" fill="#f5f6f8" stroke="#e6e9ee" stroke-width="0.4"/><ellipse cx="0" cy="-4.03" rx="1.76" ry="2.73" transform="rotate(180)" fill="#f5f6f8" stroke="#e6e9ee" stroke-width="0.4"/><ellipse cx="0" cy="-4.03" rx="1.76" ry="2.73" transform="rotate(225)" fill="#f5f6f8" stroke="#e6e9ee" stroke-width="0.4"/><ellipse cx="0" cy="-4.03" rx="1.76" ry="2.73" transform="rotate(270)" fill="#f5f6f8" stroke="#e6e9ee" stroke-width="0.4"/><ellipse cx="0" cy="-4.03" rx="1.76" ry="2.73" transform="rotate(315)" fill="#f5f6f8" stroke="#e6e9ee" stroke-width="0.4"/><circle r="2.86" fill="#fbe6c8"/><circle r="2.08" fill="#e9a548"/></g>
<g transform="translate(131.0 165.6) rotate(20)"><ellipse cx="0" cy="-4.34" rx="1.89" ry="2.94" transform="rotate(0)" fill="#f5f6f8" stroke="#e6e9ee" stroke-width="0.4"/><ellipse cx="0" cy="-4.34" rx="1.89" ry="2.94" transform="rotate(45)" fill="#f5f6f8" stroke="#e6e9ee" stroke-width="0.4"/><ellipse cx="0" cy="-4.34" rx="1.89" ry="2.94" transform="rotate(90)" fill="#f5f6f8" stroke="#e6e9ee" stroke-width="0.4"/><ellipse cx="0" cy="-4.34" rx="1.89" ry="2.94" transform="rotate(135)" fill="#f5f6f8" stroke="#e6e9ee" stroke-width="0.4"/><ellipse cx="0" cy="-4.34" rx="1.89" ry="2.94" transform="rotate(180)" fill="#f5f6f8" stroke="#e6e9ee" stroke-width="0.4"/><ellipse cx="0" cy="-4.34" rx="1.89" ry="2.94" transform="rotate(225)" fill="#f5f6f8" stroke="#e6e9ee" stroke-width="0.4"/><ellipse cx="0" cy="-4.34" rx="1.89" ry="2.94" transform="rotate(270)" fill="#f5f6f8" stroke="#e6e9ee" stroke-width="0.4"/><ellipse cx="0" cy="-4.34" rx="1.89" ry="2.94" transform="rotate(315)" fill="#f5f6f8" stroke="#e6e9ee" stroke-width="0.4"/><circle r="3.08" fill="#fbe6c8"/><circle r="2.24" fill="#e9a548"/></g>
<g transform="translate(310.7 182.2) rotate(0)"><ellipse cx="0" cy="-4.96" rx="2.16" ry="3.36" transform="rotate(0)" fill="#f5f6f8" stroke="#e6e9ee" stroke-width="0.4"/><ellipse cx="0" cy="-4.96" rx="2.16" ry="3.36" transform="rotate(45)" fill="#f5f6f8" stroke="#e6e9ee" stroke-width="0.4"/><ellipse cx="0" cy="-4.96" rx="2.16" ry="3.36" transform="rotate(90)" fill="#f5f6f8" stroke="#e6e9ee" stroke-width="0.4"/><ellipse cx="0" cy="-4.96" rx="2.16" ry="3.36" transform="rotate(135)" fill="#f5f6f8" stroke="#e6e9ee" stroke-width="0.4"/><ellipse cx="0" cy="-4.96" rx="2.16" ry="3.36" transform="rotate(180)" fill="#f5f6f8" stroke="#e6e9ee" stroke-width="0.4"/><ellipse cx="0" cy="-4.96" rx="2.16" ry="3.36" transform="rotate(225)" fill="#f5f6f8" stroke="#e6e9ee" stroke-width="0.4"/><ellipse cx="0" cy="-4.96" rx="2.16" ry="3.36" transform="rotate(270)" fill="#f5f6f8" stroke="#e6e9ee" stroke-width="0.4"/><ellipse cx="0" cy="-4.96" rx="2.16" ry="3.36" transform="rotate(315)" fill="#f5f6f8" stroke="#e6e9ee" stroke-width="0.4"/><circle r="3.52" fill="#fbe6c8"/><circle r="2.56" fill="#e9a548"/></g>
<g transform="translate(229.3 207.6) rotate(0)"><ellipse cx="0" cy="-3.72" rx="1.62" ry="2.52" transform="rotate(0)" fill="#f5f6f8" stroke="#e6e9ee" stroke-width="0.4"/><ellipse cx="0" cy="-3.72" rx="1.62" ry="2.52" transform="rotate(45)" fill="#f5f6f8" stroke="#e6e9ee" stroke-width="0.4"/><ellipse cx="0" cy="-3.72" rx="1.62" ry="2.52" transform="rotate(90)" fill="#f5f6f8" stroke="#e6e9ee" stroke-width="0.4"/><ellipse cx="0" cy="-3.72" rx="1.62" ry="2.52" transform="rotate(135)" fill="#f5f6f8" stroke="#e6e9ee" stroke-width="0.4"/><ellipse cx="0" cy="-3.72" rx="1.62" ry="2.52" transform="rotate(180)" fill="#f5f6f8" stroke="#e6e9ee" stroke-width="0.4"/><ellipse cx="0" cy="-3.72" rx="1.62" ry="2.52" transform="rotate(225)" fill="#f5f6f8" stroke="#e6e9ee" stroke-width="0.4"/><ellipse cx="0" cy="-3.72" rx="1.62" ry="2.52" transform="rotate(270)" fill="#f5f6f8" stroke="#e6e9ee" stroke-width="0.4"/><ellipse cx="0" cy="-3.72" rx="1.62" ry="2.52" transform="rotate(315)" fill="#f5f6f8" stroke="#e6e9ee" stroke-width="0.4"/><circle r="2.64" fill="#fbe6c8"/><circle r="1.92" fill="#e9a548"/></g>
<!-- duck 1 : Z1 [115,40,250,175] -->
<g transform="translate(115 40) scale(0.13184)">
 <g fill="#f2ad74">
  <path d="M463 913 L497 913 C494 945 498 968 510 980 C525 990 545 990 557 998 C555 1020 530 1040 503 1037 C480 1030 462 1005 463 913 Z"/>
  <path d="M325 925 L358 930 L352 985 L322 985 Z"/>
 </g>
 <path fill="#dedad2" stroke="#cdb4a6" stroke-width="11" stroke-linejoin="round" d="M640 60 C700 60 722 105 716 142 L696 236 C660 246 628 268 620 310 C612 370 630 440 655 500 C678 560 694 610 702 660 L700 760 C680 830 630 865 590 878 C540 915 470 940 400 937 C320 930 240 895 180 850 C150 822 118 805 100 785 C84 765 90 745 90 735 C84 715 90 695 100 683 C125 680 145 690 165 688 C225 652 300 615 380 580 C440 550 488 505 495 450 C498 400 478 340 478 290 C478 200 515 105 575 78 C595 66 620 60 640 60 Z"/>
 <path fill="#f2a262" d="M716 138 C745 160 785 185 812 196 C826 206 824 226 810 232 C775 244 730 244 694 238 C690 200 700 165 716 138 Z"/>
 <circle cx="645" cy="173" r="11" fill="#2d2a28"/>
 <path fill="none" stroke="#d2bcb0" stroke-width="9" stroke-linecap="round" d="M515 622 C532 680 505 728 445 762 C400 788 350 810 310 806 M195 700 C220 745 262 765 300 762 C318 748 330 722 334 700 C350 730 372 745 392 742 C400 735 408 722 410 712 M240 780 C265 800 292 808 312 806 M165 690 C170 720 180 745 200 760 M100 712 L150 716 M95 745 L155 748"/>
</g>
<!-- duck 2 : Z2 [215,60,335,180] -->
<g transform="translate(170 115) scale(0.13184)" fill="#f2ad74">
 <path d="M775 468 L812 474 C814 500 802 522 782 536 C766 546 745 546 731 536 C727 520 744 510 760 505 C770 495 775 485 775 468 Z"/>
 <path d="M865 476 L902 480 C907 510 897 542 876 562 C860 576 830 576 811 560 C809 545 830 535 848 530 C860 515 865 500 865 476 Z"/>
</g>
<g transform="translate(215 60) scale(0.11719)">
 <path fill="#dedad2" stroke="#cdb4a6" stroke-width="12.5" stroke-linejoin="round" d="M300 80 C360 82 415 130 428 200 C438 270 415 340 410 420 C408 470 430 510 470 540 C540 580 640 640 740 718 C765 735 790 745 805 745 C825 730 850 722 865 728 C885 745 880 775 870 795 C850 850 800 905 730 955 C670 985 580 995 500 990 C450 985 420 950 415 900 L300 800 L235 790 C205 740 200 660 210 600 C225 540 265 470 285 410 C295 370 295 340 290 315 C270 300 240 285 213 272 L187 172 C205 120 250 80 300 80 Z"/>
 <path fill="#f2a262" d="M187 170 C160 198 122 232 90 244 C76 254 78 274 92 278 C130 286 175 280 213 272 C215 235 205 200 187 170 Z"/>
 <circle cx="262" cy="190" r="12" fill="#2d2a28"/>
 <path fill="none" stroke="#cdb4a6" stroke-width="11" stroke-linecap="round" d="M395 680 C398 760 450 835 545 862 C575 860 600 850 615 835 C650 840 680 825 700 805 C735 800 765 780 785 755 M470 740 C500 790 540 815 580 820 M560 720 C590 765 630 785 665 790 M640 700 C670 735 700 750 735 752"/>
</g>
<!-- basket : Z4 [115,155,200,240] -->
<g transform="translate(115 155) scale(0.08301)">
 <path fill="none" stroke="#dba266" stroke-width="48" stroke-linecap="round" d="M228 575 C200 420 260 240 400 170 C520 120 650 230 692 420"/>
 <path fill="none" stroke="#f5d3a4" stroke-width="20" stroke-linecap="butt" stroke-dasharray="28 18" d="M228 575 C200 420 260 240 400 170 C520 120 650 230 692 420"/>
 <g fill="#9ab3a6">
  <ellipse cx="125" cy="315" rx="56" ry="28" transform="rotate(40 125 315)"/>
  <ellipse cx="195" cy="320" rx="47" ry="24" transform="rotate(-70 195 320)"/>
  <ellipse cx="130" cy="410" rx="52" ry="28" transform="rotate(10 130 410)"/>
  <ellipse cx="175" cy="515" rx="69" ry="38" transform="rotate(-15 175 515)"/>
  <ellipse cx="350" cy="310" rx="50" ry="24" transform="rotate(70 350 310)"/>
  <ellipse cx="415" cy="275" rx="54" ry="24" transform="rotate(-75 415 275)"/>
  <ellipse cx="440" cy="335" rx="45" ry="21" transform="rotate(-30 440 335)"/>
  <ellipse cx="720" cy="310" rx="47" ry="24" transform="rotate(-55 720 310)"/>
  <ellipse cx="690" cy="390" rx="50" ry="24" transform="rotate(70 690 390)"/>
  <ellipse cx="735" cy="400" rx="40" ry="20" transform="rotate(-35 735 400)"/>
  <ellipse cx="782" cy="548" rx="43" ry="20" transform="rotate(-25 782 548)"/>
  <ellipse cx="640" cy="640" rx="56" ry="31" transform="rotate(30 640 640)"/>
  <ellipse cx="395" cy="600" rx="45" ry="20" transform="rotate(-55 395 600)"/>
  <ellipse cx="250" cy="590" rx="45" ry="21" transform="rotate(20 250 590)"/>
 </g>
 <path fill="none" stroke="#7f9b8d" stroke-width="10" d="M185 300 C190 400 230 480 262 560 M400 300 L395 380 M705 330 C700 400 690 440 680 480"/>
 <path fill="url(#weave)" stroke="#cf9d66" stroke-width="13" stroke-linejoin="round" d="M205 592 C300 605 500 650 712 645 C712 720 680 800 600 855 C540 890 420 895 360 865 C270 820 215 720 205 592 Z"/>
</g>
<!-- duck 3 & 4 : Z3 [170,115,305,250] -->
<g transform="translate(170 115) scale(0.13184)">
 <g fill="#f2ad74">
  <path d="M140 793 L170 793 C168 820 176 838 196 845 C216 848 231 852 233 862 C226 880 200 893 175 889 C150 880 135 850 140 793 Z"/>
  <path d="M238 776 L266 768 C269 795 286 808 306 812 C321 815 333 820 331 832 C321 850 290 856 265 849 C245 835 235 810 238 776 Z"/>
  <path d="M614 826 C640 823 670 826 692 834 C687 856 660 872 634 872 C616 863 606 845 614 826 Z"/>
  <path d="M719 849 C745 843 780 846 802 857 C802 880 776 907 745 907 C724 896 714 870 719 849 Z"/>
 </g>
 <path fill="#dedad2" stroke="#cdb4a6" stroke-width="11" stroke-linejoin="round" d="M300 90 C350 88 395 125 408 175 L412 205 L352 268 C320 275 298 295 296 320 C300 360 330 400 355 435 C380 480 392 540 385 600 C375 670 335 730 280 765 C230 790 160 800 100 790 C55 780 25 745 25 700 C28 650 50 610 80 575 C130 525 170 470 178 420 C185 370 175 320 178 270 C180 200 200 140 240 110 C258 96 280 90 300 90 Z"/>
 <path fill="#f2a262" d="M385 206 C415 232 452 260 472 282 C482 296 474 312 458 312 C425 308 385 294 352 270 C355 245 365 225 385 206 Z"/>
 <circle cx="337" cy="212" r="11" fill="#2d2a28"/>
 <path fill="none" stroke="#d2bcb0" stroke-width="9" stroke-linecap="round" d="M246 530 C244 590 205 640 150 672 C115 688 80 692 48 686 M205 600 C200 620 192 635 180 648"/>
 <path fill="#dedad2" stroke="#cdb4a6" stroke-width="11" stroke-linejoin="round" d="M590 290 C640 290 690 330 708 385 C720 430 712 480 728 515 C745 545 790 555 830 575 C880 600 930 640 972 680 C982 700 975 720 965 735 C945 780 900 815 845 832 C790 848 700 848 640 822 C590 800 550 750 542 690 C535 630 555 580 580 545 C592 525 594 505 588 490 L555 470 L490 415 C495 380 510 340 540 312 C555 298 572 290 590 290 Z"/>
 <path fill="#f2a262" d="M490 411 C470 438 443 466 428 482 C420 496 430 510 446 509 C482 506 522 496 556 474 C546 440 520 420 490 411 Z"/>
 <circle cx="562" cy="410" r="11" fill="#2d2a28"/>
 <path fill="none" stroke="#d2bcb0" stroke-width="9" stroke-linecap="round" d="M680 668 C688 715 735 750 800 752 C860 752 915 735 955 700 M760 740 C775 720 800 712 815 722 C830 705 855 700 870 712 C885 698 905 695 920 705"/>
</g>
<!-- butterfly : Z5 [245,35,295,85] -->
<g transform="translate(245 35) scale(0.04883)">
 <g fill="#bcd0dd" stroke="#93adbe" stroke-width="34" stroke-linejoin="round">
  <ellipse cx="460" cy="668" rx="78" ry="72"/>
  <ellipse cx="632" cy="560" rx="76" ry="70"/>
  <path d="M470 500 C420 400 330 340 250 360 C170 385 130 470 165 540 C200 610 300 640 400 610 C450 595 490 560 510 540 Z"/>
  <path d="M440 360 C430 280 480 190 560 180 C640 180 690 260 690 350 C690 430 640 490 560 510 Z"/>
 </g>
 <path fill="none" stroke="#856c63" stroke-width="30" stroke-linecap="round" d="M392 295 L522 550"/>
 <path fill="none" stroke="#8b7268" stroke-width="10" stroke-linecap="round" d="M395 300 L340 318"/>
</g>

<g transform="translate(145.3 191.5) rotate(0)"><ellipse cx="0" cy="-4.09" rx="1.78" ry="2.77" transform="rotate(0)" fill="#f5f6f8" stroke="#e6e9ee" stroke-width="0.4"/><ellipse cx="0" cy="-4.09" rx="1.78" ry="2.77" transform="rotate(45)" fill="#f5f6f8" stroke="#e6e9ee" stroke-width="0.4"/><ellipse cx="0" cy="-4.09" rx="1.78" ry="2.77" transform="rotate(90)" fill="#f5f6f8" stroke="#e6e9ee" stroke-width="0.4"/><ellipse cx="0" cy="-4.09" rx="1.78" ry="2.77" transform="rotate(135)" fill="#f5f6f8" stroke="#e6e9ee" stroke-width="0.4"/><ellipse cx="0" cy="-4.09" rx="1.78" ry="2.77" transform="rotate(180)" fill="#f5f6f8" stroke="#e6e9ee" stroke-width="0.4"/><ellipse cx="0" cy="-4.09" rx="1.78" ry="2.77" transform="rotate(225)" fill="#f5f6f8" stroke="#e6e9ee" stroke-width="0.4"/><ellipse cx="0" cy="-4.09" rx="1.78" ry="2.77" transform="rotate(270)" fill="#f5f6f8" stroke="#e6e9ee" stroke-width="0.4"/><ellipse cx="0" cy="-4.09" rx="1.78" ry="2.77" transform="rotate(315)" fill="#f5f6f8" stroke="#e6e9ee" stroke-width="0.4"/><circle r="2.90" fill="#fbe6c8"/><circle r="2.11" fill="#e9a548"/></g><g transform="translate(160.2 190.3) rotate(20)"><ellipse cx="0" cy="-4.46" rx="1.94" ry="3.02" transform="rotate(0)" fill="#f5f6f8" stroke="#e6e9ee" stroke-width="0.4"/><ellipse cx="0" cy="-4.46" rx="1.94" ry="3.02" transform="rotate(45)" fill="#f5f6f8" stroke="#e6e9ee" stroke-width="0.4"/><ellipse cx="0" cy="-4.46" rx="1.94" ry="3.02" transform="rotate(90)" fill="#f5f6f8" stroke="#e6e9ee" stroke-width="0.4"/><ellipse cx="0" cy="-4.46" rx="1.94" ry="3.02" transform="rotate(135)" fill="#f5f6f8" stroke="#e6e9ee" stroke-width="0.4"/><ellipse cx="0" cy="-4.46" rx="1.94" ry="3.02" transform="rotate(180)" fill="#f5f6f8" stroke="#e6e9ee" stroke-width="0.4"/><ellipse cx="0" cy="-4.46" rx="1.94" ry="3.02" transform="rotate(225)" fill="#f5f6f8" stroke="#e6e9ee" stroke-width="0.4"/><ellipse cx="0" cy="-4.46" rx="1.94" ry="3.02" transform="rotate(270)" fill="#f5f6f8" stroke="#e6e9ee" stroke-width="0.4"/><ellipse cx="0" cy="-4.46" rx="1.94" ry="3.02" transform="rotate(315)" fill="#f5f6f8" stroke="#e6e9ee" stroke-width="0.4"/><circle r="3.17" fill="#fbe6c8"/><circle r="2.30" fill="#e9a548"/></g><g transform="translate(155.7 204.8) rotate(0)"><ellipse cx="0" cy="-3.22" rx="1.40" ry="2.18" transform="rotate(0)" fill="#f5f6f8" stroke="#e6e9ee" stroke-width="0.4"/><ellipse cx="0" cy="-3.22" rx="1.40" ry="2.18" transform="rotate(45)" fill="#f5f6f8" stroke="#e6e9ee" stroke-width="0.4"/><ellipse cx="0" cy="-3.22" rx="1.40" ry="2.18" transform="rotate(90)" fill="#f5f6f8" stroke="#e6e9ee" stroke-width="0.4"/><ellipse cx="0" cy="-3.22" rx="1.40" ry="2.18" transform="rotate(135)" fill="#f5f6f8" stroke="#e6e9ee" stroke-width="0.4"/><ellipse cx="0" cy="-3.22" rx="1.40" ry="2.18" transform="rotate(180)" fill="#f5f6f8" stroke="#e6e9ee" stroke-width="0.4"/><ellipse cx="0" cy="-3.22" rx="1.40" ry="2.18" transform="rotate(225)" fill="#f5f6f8" stroke="#e6e9ee" stroke-width="0.4"/><ellipse cx="0" cy="-3.22" rx="1.40" ry="2.18" transform="rotate(270)" fill="#f5f6f8" stroke="#e6e9ee" stroke-width="0.4"/><ellipse cx="0" cy="-3.22" rx="1.40" ry="2.18" transform="rotate(315)" fill="#f5f6f8" stroke="#e6e9ee" stroke-width="0.4"/><circle r="2.29" fill="#fbe6c8"/><circle r="1.66" fill="#e9a548"/></g><g transform="translate(173.1 201.1) rotate(10)"><ellipse cx="0" cy="-2.98" rx="1.30" ry="2.02" transform="rotate(0)" fill="#f5f6f8" stroke="#e6e9ee" stroke-width="0.4"/><ellipse cx="0" cy="-2.98" rx="1.30" ry="2.02" transform="rotate(45)" fill="#f5f6f8" stroke="#e6e9ee" stroke-width="0.4"/><ellipse cx="0" cy="-2.98" rx="1.30" ry="2.02" transform="rotate(90)" fill="#f5f6f8" stroke="#e6e9ee" stroke-width="0.4"/><ellipse cx="0" cy="-2.98" rx="1.30" ry="2.02" transform="rotate(135)" fill="#f5f6f8" stroke="#e6e9ee" stroke-width="0.4"/><ellipse cx="0" cy="-2.98" rx="1.30" ry="2.02" transform="rotate(180)" fill="#f5f6f8" stroke="#e6e9ee" stroke-width="0.4"/><ellipse cx="0" cy="-2.98" rx="1.30" ry="2.02" transform="rotate(225)" fill="#f5f6f8" stroke="#e6e9ee" stroke-width="0.4"/><ellipse cx="0" cy="-2.98" rx="1.30" ry="2.02" transform="rotate(270)" fill="#f5f6f8" stroke="#e6e9ee" stroke-width="0.4"/><ellipse cx="0" cy="-2.98" rx="1.30" ry="2.02" transform="rotate(315)" fill="#f5f6f8" stroke="#e6e9ee" stroke-width="0.4"/><circle r="2.11" fill="#fbe6c8"/><circle r="1.54" fill="#e9a548"/></g>
</g>
<g id="artB2" filter="url(#soft)">
<g fill="none" stroke="#7f9b8d" stroke-width="1.3" stroke-linecap="round">
<path d="M310.5 187 C309 200 305 213 301.6 226"/>
<path d="M229.2 211 L229.7 224"/>
<path d="M146 98 C147.5 102 148.8 106 149 111.2"/>
<path d="M155.9 104.8 C158.5 99 162 92 165.1 84.7 C166.5 81 167.5 78 168.2 76"/>
<path d="M226.4 132.3 C227 122 229.5 113 232.3 106"/>
<path d="M282.4 78 C290 92 298 106 304.7 124.5"/>
<path d="M162.5 64.4 L164 60"/>
</g>
<ellipse cx="165.2" cy="56.8" rx="2.1" ry="4.3" transform="rotate(25 165.2 56.8)" fill="#9ab3a6"/><ellipse cx="139.6" cy="92.6" rx="8.2" ry="3.7" transform="rotate(38 139.6 92.6)" fill="#9ab3a6"/><ellipse cx="150.2" cy="95.2" rx="4.8" ry="2.4" transform="rotate(-68 150.2 95.2)" fill="#9ab3a6"/><ellipse cx="167.8" cy="77.3" rx="3.4" ry="1.7" transform="rotate(-73 167.8 77.3)" fill="#9ab3a6"/><ellipse cx="163.8" cy="80.6" rx="3.2" ry="1.7" transform="rotate(-112 163.8 80.6)" fill="#9ab3a6"/><ellipse cx="168.5" cy="83.4" rx="3.3" ry="1.7" transform="rotate(-20 168.5 83.4)" fill="#9ab3a6"/><ellipse cx="160.6" cy="87.3" rx="3.9" ry="1.7" transform="rotate(-118 160.6 87.3)" fill="#9ab3a6"/><ellipse cx="166.8" cy="89.2" rx="4.1" ry="1.7" transform="rotate(-23 166.8 89.2)" fill="#9ab3a6"/><ellipse cx="158.2" cy="93.2" rx="3.9" ry="1.7" transform="rotate(-125 158.2 93.2)" fill="#9ab3a6"/><ellipse cx="163.9" cy="97.2" rx="4.3" ry="1.7" transform="rotate(-19 163.9 97.2)" fill="#9ab3a6"/><ellipse cx="222.4" cy="120.7" rx="3.5" ry="2.1" transform="rotate(70 222.4 120.7)" fill="#9ab3a6"/><ellipse cx="231.3" cy="122.0" rx="3.5" ry="2.1" transform="rotate(-25 231.3 122.0)" fill="#9ab3a6"/><ellipse cx="226.8" cy="112.2" rx="3.5" ry="2.1" transform="rotate(65 226.8 112.2)" fill="#9ab3a6"/><ellipse cx="233.1" cy="114.5" rx="3.5" ry="2.1" transform="rotate(-35 233.1 114.5)" fill="#9ab3a6"/><ellipse cx="232.6" cy="107.9" rx="3.5" ry="2.1" transform="rotate(-60 232.6 107.9)" fill="#9ab3a6"/><ellipse cx="293.0" cy="85.1" rx="5.1" ry="2.7" transform="rotate(-61 293.0 85.1)" fill="#9ab3a6"/><ellipse cx="300.0" cy="95.0" rx="5.8" ry="2.7" transform="rotate(-59 300.0 95.0)" fill="#9ab3a6"/><ellipse cx="304.2" cy="107.3" rx="5.8" ry="2.7" transform="rotate(-62 304.2 107.3)" fill="#9ab3a6"/><ellipse cx="283.7" cy="80.5" rx="4.8" ry="2.7" transform="rotate(-129 283.7 80.5)" fill="#9ab3a6"/><ellipse cx="286.1" cy="91.5" rx="5.5" ry="2.7" transform="rotate(-156 286.1 91.5)" fill="#9ab3a6"/><ellipse cx="292.3" cy="101.7" rx="5.3" ry="2.7" transform="rotate(-152 292.3 101.7)" fill="#9ab3a6"/><ellipse cx="296.5" cy="111.7" rx="5.3" ry="2.7" transform="rotate(-159 296.5 111.7)" fill="#9ab3a6"/><ellipse cx="313.2" cy="201.5" rx="6.7" ry="2.2" transform="rotate(-40 313.2 201.5)" fill="#9ab3a6"/><ellipse cx="305.1" cy="200.7" rx="4.7" ry="2.1" transform="rotate(-120 305.1 200.7)" fill="#9ab3a6"/><ellipse cx="310.0" cy="216.0" rx="6.7" ry="2.2" transform="rotate(-40 310.0 216.0)" fill="#9ab3a6"/><ellipse cx="301.4" cy="217.6" rx="4.7" ry="2.0" transform="rotate(-113 301.4 217.6)" fill="#9ab3a6"/><ellipse cx="225.6" cy="220.6" rx="5.6" ry="2.0" transform="rotate(-134 225.6 220.6)" fill="#9ab3a6"/><ellipse cx="232.9" cy="220.4" rx="5.4" ry="2.0" transform="rotate(-50 232.9 220.4)" fill="#9ab3a6"/>
<g transform="translate(147.1 70.0) rotate(10)"><ellipse cx="0" cy="-7.69" rx="3.35" ry="5.21" transform="rotate(0)" fill="#f5f6f8" stroke="#e6e9ee" stroke-width="0.4"/><ellipse cx="0" cy="-7.69" rx="3.35" ry="5.21" transform="rotate(45)" fill="#f5f6f8" stroke="#e6e9ee" stroke-width="0.4"/><ellipse cx="0" cy="-7.69" rx="3.35" ry="5.21" transform="rotate(90)" fill="#f5f6f8" stroke="#e6e9ee" stroke-width="0.4"/><ellipse cx="0" cy="-7.69" rx="3.35" ry="5.21" transform="rotate(135)" fill="#f5f6f8" stroke="#e6e9ee" stroke-width="0.4"/><ellipse cx="0" cy="-7.69" rx="3.35" ry="5.21" transform="rotate(180)" fill="#f5f6f8" stroke="#e6e9ee" stroke-width="0.4"/><ellipse cx="0" cy="-7.69" rx="3.35" ry="5.21" transform="rotate(225)" fill="#f5f6f8" stroke="#e6e9ee" stroke-width="0.4"/><ellipse cx="0" cy="-7.69" rx="3.35" ry="5.21" transform="rotate(270)" fill="#f5f6f8" stroke="#e6e9ee" stroke-width="0.4"/><ellipse cx="0" cy="-7.69" rx="3.35" ry="5.21" transform="rotate(315)" fill="#f5f6f8" stroke="#e6e9ee" stroke-width="0.4"/><circle r="5.46" fill="#fbe6c8"/><circle r="3.97" fill="#e9a548"/></g>
<g transform="translate(133.6 112.2) rotate(0)"><ellipse cx="0" cy="-4.96" rx="2.16" ry="3.36" transform="rotate(0)" fill="#f5f6f8" stroke="#e6e9ee" stroke-width="0.4"/><ellipse cx="0" cy="-4.96" rx="2.16" ry="3.36" transform="rotate(45)" fill="#f5f6f8" stroke="#e6e9ee" stroke-width="0.4"/><ellipse cx="0" cy="-4.96" rx="2.16" ry="3.36" transform="rotate(90)" fill="#f5f6f8" stroke="#e6e9ee" stroke-width="0.4"/><ellipse cx="0" cy="-4.96" rx="2.16" ry="3.36" transform="rotate(135)" fill="#f5f6f8" stroke="#e6e9ee" stroke-width="0.4"/><ellipse cx="0" cy="-4.96" rx="2.16" ry="3.36" transform="rotate(180)" fill="#f5f6f8" stroke="#e6e9ee" stroke-width="0.4"/><ellipse cx="0" cy="-4.96" rx="2.16" ry="3.36" transform="rotate(225)" fill="#f5f6f8" stroke="#e6e9ee" stroke-width="0.4"/><ellipse cx="0" cy="-4.96" rx="2.16" ry="3.36" transform="rotate(270)" fill="#f5f6f8" stroke="#e6e9ee" stroke-width="0.4"/><ellipse cx="0" cy="-4.96" rx="2.16" ry="3.36" transform="rotate(315)" fill="#f5f6f8" stroke="#e6e9ee" stroke-width="0.4"/><circle r="3.52" fill="#fbe6c8"/><circle r="2.56" fill="#e9a548"/></g>
<g transform="translate(234.7 53.7) rotate(20)"><ellipse cx="0" cy="-4.34" rx="1.89" ry="2.94" transform="rotate(0)" fill="#f5f6f8" stroke="#e6e9ee" stroke-width="0.4"/><ellipse cx="0" cy="-4.34" rx="1.89" ry="2.94" transform="rotate(45)" fill="#f5f6f8" stroke="#e6e9ee" stroke-width="0.4"/><ellipse cx="0" cy="-4.34" rx="1.89" ry="2.94" transform="rotate(90)" fill="#f5f6f8" stroke="#e6e9ee" stroke-width="0.4"/><ellipse cx="0" cy="-4.34" rx="1.89" ry="2.94" transform="rotate(135)" fill="#f5f6f8" stroke="#e6e9ee" stroke-width="0.4"/><ellipse cx="0" cy="-4.34" rx="1.89" ry="2.94" transform="rotate(180)" fill="#f5f6f8" stroke="#e6e9ee" stroke-width="0.4"/><ellipse cx="0" cy="-4.34" rx="1.89" ry="2.94" transform="rotate(225)" fill="#f5f6f8" stroke="#e6e9ee" stroke-width="0.4"/><ellipse cx="0" cy="-4.34" rx="1.89" ry="2.94" transform="rotate(270)" fill="#f5f6f8" stroke="#e6e9ee" stroke-width="0.4"/><ellipse cx="0" cy="-4.34" rx="1.89" ry="2.94" transform="rotate(315)" fill="#f5f6f8" stroke="#e6e9ee" stroke-width="0.4"/><circle r="3.08" fill="#fbe6c8"/><circle r="2.24" fill="#e9a548"/></g>
<g transform="translate(297.6 64.8) rotate(0)"><ellipse cx="0" cy="-4.65" rx="2.03" ry="3.15" transform="rotate(0)" fill="#f5f6f8" stroke="#e6e9ee" stroke-width="0.4"/><ellipse cx="0" cy="-4.65" rx="2.03" ry="3.15" transform="rotate(45)" fill="#f5f6f8" stroke="#e6e9ee" stroke-width="0.4"/><ellipse cx="0" cy="-4.65" rx="2.03" ry="3.15" transform="rotate(90)" fill="#f5f6f8" stroke="#e6e9ee" stroke-width="0.4"/><ellipse cx="0" cy="-4.65" rx="2.03" ry="3.15" transform="rotate(135)" fill="#f5f6f8" stroke="#e6e9ee" stroke-width="0.4"/><ellipse cx="0" cy="-4.65" rx="2.03" ry="3.15" transform="rotate(180)" fill="#f5f6f8" stroke="#e6e9ee" stroke-width="0.4"/><ellipse cx="0" cy="-4.65" rx="2.03" ry="3.15" transform="rotate(225)" fill="#f5f6f8" stroke="#e6e9ee" stroke-width="0.4"/><ellipse cx="0" cy="-4.65" rx="2.03" ry="3.15" transform="rotate(270)" fill="#f5f6f8" stroke="#e6e9ee" stroke-width="0.4"/><ellipse cx="0" cy="-4.65" rx="2.03" ry="3.15" transform="rotate(315)" fill="#f5f6f8" stroke="#e6e9ee" stroke-width="0.4"/><circle r="3.30" fill="#fbe6c8"/><circle r="2.40" fill="#e9a548"/></g>
<g transform="translate(212.2 97.6) rotate(15)"><ellipse cx="0" cy="-3.72" rx="1.62" ry="2.52" transform="rotate(0)" fill="#f5f6f8" stroke="#e6e9ee" stroke-width="0.4"/><ellipse cx="0" cy="-3.72" rx="1.62" ry="2.52" transform="rotate(45)" fill="#f5f6f8" stroke="#e6e9ee" stroke-width="0.4"/><ellipse cx="0" cy="-3.72" rx="1.62" ry="2.52" transform="rotate(90)" fill="#f5f6f8" stroke="#e6e9ee" stroke-width="0.4"/><ellipse cx="0" cy="-3.72" rx="1.62" ry="2.52" transform="rotate(135)" fill="#f5f6f8" stroke="#e6e9ee" stroke-width="0.4"/><ellipse cx="0" cy="-3.72" rx="1.62" ry="2.52" transform="rotate(180)" fill="#f5f6f8" stroke="#e6e9ee" stroke-width="0.4"/><ellipse cx="0" cy="-3.72" rx="1.62" ry="2.52" transform="rotate(225)" fill="#f5f6f8" stroke="#e6e9ee" stroke-width="0.4"/><ellipse cx="0" cy="-3.72" rx="1.62" ry="2.52" transform="rotate(270)" fill="#f5f6f8" stroke="#e6e9ee" stroke-width="0.4"/><ellipse cx="0" cy="-3.72" rx="1.62" ry="2.52" transform="rotate(315)" fill="#f5f6f8" stroke="#e6e9ee" stroke-width="0.4"/><circle r="2.64" fill="#fbe6c8"/><circle r="1.92" fill="#e9a548"/></g>
<g transform="translate(277.3 107.5) rotate(10)"><ellipse cx="0" cy="-4.65" rx="2.03" ry="3.15" transform="rotate(0)" fill="#f5f6f8" stroke="#e6e9ee" stroke-width="0.4"/><ellipse cx="0" cy="-4.65" rx="2.03" ry="3.15" transform="rotate(45)" fill="#f5f6f8" stroke="#e6e9ee" stroke-width="0.4"/><ellipse cx="0" cy="-4.65" rx="2.03" ry="3.15" transform="rotate(90)" fill="#f5f6f8" stroke="#e6e9ee" stroke-width="0.4"/><ellipse cx="0" cy="-4.65" rx="2.03" ry="3.15" transform="rotate(135)" fill="#f5f6f8" stroke="#e6e9ee" stroke-width="0.4"/><ellipse cx="0" cy="-4.65" rx="2.03" ry="3.15" transform="rotate(180)" fill="#f5f6f8" stroke="#e6e9ee" stroke-width="0.4"/><ellipse cx="0" cy="-4.65" rx="2.03" ry="3.15" transform="rotate(225)" fill="#f5f6f8" stroke="#e6e9ee" stroke-width="0.4"/><ellipse cx="0" cy="-4.65" rx="2.03" ry="3.15" transform="rotate(270)" fill="#f5f6f8" stroke="#e6e9ee" stroke-width="0.4"/><ellipse cx="0" cy="-4.65" rx="2.03" ry="3.15" transform="rotate(315)" fill="#f5f6f8" stroke="#e6e9ee" stroke-width="0.4"/><circle r="3.30" fill="#fbe6c8"/><circle r="2.40" fill="#e9a548"/></g>
<g transform="translate(313.3 126.1) rotate(0)"><ellipse cx="0" cy="-4.03" rx="1.76" ry="2.73" transform="rotate(0)" fill="#f5f6f8" stroke="#e6e9ee" stroke-width="0.4"/><ellipse cx="0" cy="-4.03" rx="1.76" ry="2.73" transform="rotate(45)" fill="#f5f6f8" stroke="#e6e9ee" stroke-width="0.4"/><ellipse cx="0" cy="-4.03" rx="1.76" ry="2.73" transform="rotate(90)" fill="#f5f6f8" stroke="#e6e9ee" stroke-width="0.4"/><ellipse cx="0" cy="-4.03" rx="1.76" ry="2.73" transform="rotate(135)" fill="#f5f6f8" stroke="#e6e9ee" stroke-width="0.4"/><ellipse cx="0" cy="-4.03" rx="1.76" ry="2.73" transform="rotate(180)" fill="#f5f6f8" stroke="#e6e9ee" stroke-width="0.4"/><ellipse cx="0" cy="-4.03" rx="1.76" ry="2.73" transform="rotate(225)" fill="#f5f6f8" stroke="#e6e9ee" stroke-width="0.4"/><ellipse cx="0" cy="-4.03" rx="1.76" ry="2.73" transform="rotate(270)" fill="#f5f6f8" stroke="#e6e9ee" stroke-width="0.4"/><ellipse cx="0" cy="-4.03" rx="1.76" ry="2.73" transform="rotate(315)" fill="#f5f6f8" stroke="#e6e9ee" stroke-width="0.4"/><circle r="2.86" fill="#fbe6c8"/><circle r="2.08" fill="#e9a548"/></g>
<g transform="translate(131.0 165.6) rotate(20)"><ellipse cx="0" cy="-4.34" rx="1.89" ry="2.94" transform="rotate(0)" fill="#f5f6f8" stroke="#e6e9ee" stroke-width="0.4"/><ellipse cx="0" cy="-4.34" rx="1.89" ry="2.94" transform="rotate(45)" fill="#f5f6f8" stroke="#e6e9ee" stroke-width="0.4"/><ellipse cx="0" cy="-4.34" rx="1.89" ry="2.94" transform="rotate(90)" fill="#f5f6f8" stroke="#e6e9ee" stroke-width="0.4"/><ellipse cx="0" cy="-4.34" rx="1.89" ry="2.94" transform="rotate(135)" fill="#f5f6f8" stroke="#e6e9ee" stroke-width="0.4"/><ellipse cx="0" cy="-4.34" rx="1.89" ry="2.94" transform="rotate(180)" fill="#f5f6f8" stroke="#e6e9ee" stroke-width="0.4"/><ellipse cx="0" cy="-4.34" rx="1.89" ry="2.94" transform="rotate(225)" fill="#f5f6f8" stroke="#e6e9ee" stroke-width="0.4"/><ellipse cx="0" cy="-4.34" rx="1.89" ry="2.94" transform="rotate(270)" fill="#f5f6f8" stroke="#e6e9ee" stroke-width="0.4"/><ellipse cx="0" cy="-4.34" rx="1.89" ry="2.94" transform="rotate(315)" fill="#f5f6f8" stroke="#e6e9ee" stroke-width="0.4"/><circle r="3.08" fill="#fbe6c8"/><circle r="2.24" fill="#e9a548"/></g>
<g transform="translate(310.7 182.2) rotate(0)"><ellipse cx="0" cy="-4.96" rx="2.16" ry="3.36" transform="rotate(0)" fill="#f5f6f8" stroke="#e6e9ee" stroke-width="0.4"/><ellipse cx="0" cy="-4.96" rx="2.16" ry="3.36" transform="rotate(45)" fill="#f5f6f8" stroke="#e6e9ee" stroke-width="0.4"/><ellipse cx="0" cy="-4.96" rx="2.16" ry="3.36" transform="rotate(90)" fill="#f5f6f8" stroke="#e6e9ee" stroke-width="0.4"/><ellipse cx="0" cy="-4.96" rx="2.16" ry="3.36" transform="rotate(135)" fill="#f5f6f8" stroke="#e6e9ee" stroke-width="0.4"/><ellipse cx="0" cy="-4.96" rx="2.16" ry="3.36" transform="rotate(180)" fill="#f5f6f8" stroke="#e6e9ee" stroke-width="0.4"/><ellipse cx="0" cy="-4.96" rx="2.16" ry="3.36" transform="rotate(225)" fill="#f5f6f8" stroke="#e6e9ee" stroke-width="0.4"/><ellipse cx="0" cy="-4.96" rx="2.16" ry="3.36" transform="rotate(270)" fill="#f5f6f8" stroke="#e6e9ee" stroke-width="0.4"/><ellipse cx="0" cy="-4.96" rx="2.16" ry="3.36" transform="rotate(315)" fill="#f5f6f8" stroke="#e6e9ee" stroke-width="0.4"/><circle r="3.52" fill="#fbe6c8"/><circle r="2.56" fill="#e9a548"/></g>
<g transform="translate(229.3 207.6) rotate(0)"><ellipse cx="0" cy="-3.72" rx="1.62" ry="2.52" transform="rotate(0)" fill="#f5f6f8" stroke="#e6e9ee" stroke-width="0.4"/><ellipse cx="0" cy="-3.72" rx="1.62" ry="2.52" transform="rotate(45)" fill="#f5f6f8" stroke="#e6e9ee" stroke-width="0.4"/><ellipse cx="0" cy="-3.72" rx="1.62" ry="2.52" transform="rotate(90)" fill="#f5f6f8" stroke="#e6e9ee" stroke-width="0.4"/><ellipse cx="0" cy="-3.72" rx="1.62" ry="2.52" transform="rotate(135)" fill="#f5f6f8" stroke="#e6e9ee" stroke-width="0.4"/><ellipse cx="0" cy="-3.72" rx="1.62" ry="2.52" transform="rotate(180)" fill="#f5f6f8" stroke="#e6e9ee" stroke-width="0.4"/><ellipse cx="0" cy="-3.72" rx="1.62" ry="2.52" transform="rotate(225)" fill="#f5f6f8" stroke="#e6e9ee" stroke-width="0.4"/><ellipse cx="0" cy="-3.72" rx="1.62" ry="2.52" transform="rotate(270)" fill="#f5f6f8" stroke="#e6e9ee" stroke-width="0.4"/><ellipse cx="0" cy="-3.72" rx="1.62" ry="2.52" transform="rotate(315)" fill="#f5f6f8" stroke="#e6e9ee" stroke-width="0.4"/><circle r="2.64" fill="#fbe6c8"/><circle r="1.92" fill="#e9a548"/></g>
<!-- duck 1 : Z1 [115,40,250,175] -->
<g transform="translate(115 40) scale(0.13184)">
 <g fill="#f2ad74">
  <path d="M463 913 L497 913 C494 945 498 968 510 980 C525 990 545 990 557 998 C555 1020 530 1040 503 1037 C480 1030 462 1005 463 913 Z"/>
  <path d="M325 925 L358 930 L352 985 L322 985 Z"/>
 </g>
 <path fill="#dbd6cf" stroke="#cab3a5" stroke-width="11" stroke-linejoin="round" d="M640 60 C700 60 722 105 716 142 L696 236 C660 246 628 268 620 310 C612 370 630 440 655 500 C678 560 694 610 702 660 L700 760 C680 830 630 865 590 878 C540 915 470 940 400 937 C320 930 240 895 180 850 C150 822 118 805 100 785 C84 765 90 745 90 735 C84 715 90 695 100 683 C125 680 145 690 165 688 C225 652 300 615 380 580 C440 550 488 505 495 450 C498 400 478 340 478 290 C478 200 515 105 575 78 C595 66 620 60 640 60 Z"/>
 <path fill="#f2a262" d="M716 138 C745 160 785 185 812 196 C826 206 824 226 810 232 C775 244 730 244 694 238 C690 200 700 165 716 138 Z"/>
 <circle cx="645" cy="173" r="11" fill="#2d2a28"/>
 <path fill="none" stroke="#cfbbaf" stroke-width="9" stroke-linecap="round" d="M515 622 C532 680 505 728 445 762 C400 788 350 810 310 806 M195 700 C220 745 262 765 300 762 C318 748 330 722 334 700 C350 730 372 745 392 742 C400 735 408 722 410 712 M240 780 C265 800 292 808 312 806 M165 690 C170 720 180 745 200 760 M100 712 L150 716 M95 745 L155 748"/>
</g>
<!-- duck 2 : Z2 [215,60,335,180] -->
<g transform="translate(170 115) scale(0.13184)" fill="#f2ad74">
 <path d="M775 468 L812 474 C814 500 802 522 782 536 C766 546 745 546 731 536 C727 520 744 510 760 505 C770 495 775 485 775 468 Z"/>
 <path d="M865 476 L902 480 C907 510 897 542 876 562 C860 576 830 576 811 560 C809 545 830 535 848 530 C860 515 865 500 865 476 Z"/>
</g>
<g transform="translate(215 60) scale(0.11719)">
 <path fill="#dbd6cf" stroke="#cab3a5" stroke-width="12.5" stroke-linejoin="round" d="M300 80 C360 82 415 130 428 200 C438 270 415 340 410 420 C408 470 430 510 470 540 C540 580 640 640 740 718 C765 735 790 745 805 745 C825 730 850 722 865 728 C885 745 880 775 870 795 C850 850 800 905 730 955 C670 985 580 995 500 990 C450 985 420 950 415 900 L300 800 L235 790 C205 740 200 660 210 600 C225 540 265 470 285 410 C295 370 295 340 290 315 C270 300 240 285 213 272 L187 172 C205 120 250 80 300 80 Z"/>
 <path fill="#f2a262" d="M187 170 C160 198 122 232 90 244 C76 254 78 274 92 278 C130 286 175 280 213 272 C215 235 205 200 187 170 Z"/>
 <circle cx="262" cy="190" r="12" fill="#2d2a28"/>
 <path fill="none" stroke="#cab3a5" stroke-width="11" stroke-linecap="round" d="M395 680 C398 760 450 835 545 862 C575 860 600 850 615 835 C650 840 680 825 700 805 C735 800 765 780 785 755 M470 740 C500 790 540 815 580 820 M560 720 C590 765 630 785 665 790 M640 700 C670 735 700 750 735 752"/>
</g>
<!-- basket : Z4 [115,155,200,240] -->
<g transform="translate(115 155) scale(0.08301)">
 <path fill="none" stroke="#dba266" stroke-width="48" stroke-linecap="round" d="M228 575 C200 420 260 240 400 170 C520 120 650 230 692 420"/>
 <path fill="none" stroke="#f5d3a4" stroke-width="20" stroke-linecap="butt" stroke-dasharray="28 18" d="M228 575 C200 420 260 240 400 170 C520 120 650 230 692 420"/>
 <g fill="#9ab3a6">
  <ellipse cx="125" cy="315" rx="56" ry="28" transform="rotate(40 125 315)"/>
  <ellipse cx="195" cy="320" rx="47" ry="24" transform="rotate(-70 195 320)"/>
  <ellipse cx="130" cy="410" rx="52" ry="28" transform="rotate(10 130 410)"/>
  <ellipse cx="175" cy="515" rx="69" ry="38" transform="rotate(-15 175 515)"/>
  <ellipse cx="350" cy="310" rx="50" ry="24" transform="rotate(70 350 310)"/>
  <ellipse cx="415" cy="275" rx="54" ry="24" transform="rotate(-75 415 275)"/>
  <ellipse cx="440" cy="335" rx="45" ry="21" transform="rotate(-30 440 335)"/>
  <ellipse cx="720" cy="310" rx="47" ry="24" transform="rotate(-55 720 310)"/>
  <ellipse cx="690" cy="390" rx="50" ry="24" transform="rotate(70 690 390)"/>
  <ellipse cx="735" cy="400" rx="40" ry="20" transform="rotate(-35 735 400)"/>
  <ellipse cx="782" cy="548" rx="43" ry="20" transform="rotate(-25 782 548)"/>
  <ellipse cx="640" cy="640" rx="56" ry="31" transform="rotate(30 640 640)"/>
  <ellipse cx="395" cy="600" rx="45" ry="20" transform="rotate(-55 395 600)"/>
  <ellipse cx="250" cy="590" rx="45" ry="21" transform="rotate(20 250 590)"/>
 </g>
 <path fill="none" stroke="#7f9b8d" stroke-width="10" d="M185 300 C190 400 230 480 262 560 M400 300 L395 380 M705 330 C700 400 690 440 680 480"/>
 <path fill="url(#weave)" stroke="#cf9d66" stroke-width="13" stroke-linejoin="round" d="M205 592 C300 605 500 650 712 645 C712 720 680 800 600 855 C540 890 420 895 360 865 C270 820 215 720 205 592 Z"/>
</g>
<!-- duck 3 & 4 : Z3 [170,115,305,250] -->
<g transform="translate(170 115) scale(0.13184)">
 <g fill="#f2ad74">
  <path d="M140 793 L170 793 C168 820 176 838 196 845 C216 848 231 852 233 862 C226 880 200 893 175 889 C150 880 135 850 140 793 Z"/>
  <path d="M238 776 L266 768 C269 795 286 808 306 812 C321 815 333 820 331 832 C321 850 290 856 265 849 C245 835 235 810 238 776 Z"/>
  <path d="M614 826 C640 823 670 826 692 834 C687 856 660 872 634 872 C616 863 606 845 614 826 Z"/>
  <path d="M719 849 C745 843 780 846 802 857 C802 880 776 907 745 907 C724 896 714 870 719 849 Z"/>
 </g>
 <path fill="#dbd6cf" stroke="#cab3a5" stroke-width="11" stroke-linejoin="round" d="M300 90 C350 88 395 125 408 175 L412 205 L352 268 C320 275 298 295 296 320 C300 360 330 400 355 435 C380 480 392 540 385 600 C375 670 335 730 280 765 C230 790 160 800 100 790 C55 780 25 745 25 700 C28 650 50 610 80 575 C130 525 170 470 178 420 C185 370 175 320 178 270 C180 200 200 140 240 110 C258 96 280 90 300 90 Z"/>
 <path fill="#f2a262" d="M385 206 C415 232 452 260 472 282 C482 296 474 312 458 312 C425 308 385 294 352 270 C355 245 365 225 385 206 Z"/>
 <circle cx="337" cy="212" r="11" fill="#2d2a28"/>
 <path fill="none" stroke="#cfbbaf" stroke-width="9" stroke-linecap="round" d="M246 530 C244 590 205 640 150 672 C115 688 80 692 48 686 M205 600 C200 620 192 635 180 648"/>
 <path fill="#dbd6cf" stroke="#cab3a5" stroke-width="11" stroke-linejoin="round" d="M590 290 C640 290 690 330 708 385 C720 430 712 480 728 515 C745 545 790 555 830 575 C880 600 930 640 972 680 C982 700 975 720 965 735 C945 780 900 815 845 832 C790 848 700 848 640 822 C590 800 550 750 542 690 C535 630 555 580 580 545 C592 525 594 505 588 490 L555 470 L490 415 C495 380 510 340 540 312 C555 298 572 290 590 290 Z"/>
 <path fill="#f2a262" d="M490 411 C470 438 443 466 428 482 C420 496 430 510 446 509 C482 506 522 496 556 474 C546 440 520 420 490 411 Z"/>
 <circle cx="562" cy="410" r="11" fill="#2d2a28"/>
 <path fill="none" stroke="#cfbbaf" stroke-width="9" stroke-linecap="round" d="M680 668 C688 715 735 750 800 752 C860 752 915 735 955 700 M760 740 C775 720 800 712 815 722 C830 705 855 700 870 712 C885 698 905 695 920 705"/>
</g>
<!-- butterfly : Z5 [245,35,295,85] -->
<g transform="translate(245 35) scale(0.04883)">
 <g fill="#bcd0dd" stroke="#93adbe" stroke-width="34" stroke-linejoin="round">
  <ellipse cx="460" cy="668" rx="78" ry="72"/>
  <ellipse cx="632" cy="560" rx="76" ry="70"/>
  <path d="M470 500 C420 400 330 340 250 360 C170 385 130 470 165 540 C200 610 300 640 400 610 C450 595 490 560 510 540 Z"/>
  <path d="M440 360 C430 280 480 190 560 180 C640 180 690 260 690 350 C690 430 640 490 560 510 Z"/>
 </g>
 <path fill="none" stroke="#856c63" stroke-width="30" stroke-linecap="round" d="M392 295 L522 550"/>
 <path fill="none" stroke="#8b7268" stroke-width="10" stroke-linecap="round" d="M395 300 L340 318"/>
</g>

<g transform="translate(145.3 191.5) rotate(0)"><ellipse cx="0" cy="-4.09" rx="1.78" ry="2.77" transform="rotate(0)" fill="#f5f6f8" stroke="#e6e9ee" stroke-width="0.4"/><ellipse cx="0" cy="-4.09" rx="1.78" ry="2.77" transform="rotate(45)" fill="#f5f6f8" stroke="#e6e9ee" stroke-width="0.4"/><ellipse cx="0" cy="-4.09" rx="1.78" ry="2.77" transform="rotate(90)" fill="#f5f6f8" stroke="#e6e9ee" stroke-width="0.4"/><ellipse cx="0" cy="-4.09" rx="1.78" ry="2.77" transform="rotate(135)" fill="#f5f6f8" stroke="#e6e9ee" stroke-width="0.4"/><ellipse cx="0" cy="-4.09" rx="1.78" ry="2.77" transform="rotate(180)" fill="#f5f6f8" stroke="#e6e9ee" stroke-width="0.4"/><ellipse cx="0" cy="-4.09" rx="1.78" ry="2.77" transform="rotate(225)" fill="#f5f6f8" stroke="#e6e9ee" stroke-width="0.4"/><ellipse cx="0" cy="-4.09" rx="1.78" ry="2.77" transform="rotate(270)" fill="#f5f6f8" stroke="#e6e9ee" stroke-width="0.4"/><ellipse cx="0" cy="-4.09" rx="1.78" ry="2.77" transform="rotate(315)" fill="#f5f6f8" stroke="#e6e9ee" stroke-width="0.4"/><circle r="2.90" fill="#fbe6c8"/><circle r="2.11" fill="#e9a548"/></g><g transform="translate(160.2 190.3) rotate(20)"><ellipse cx="0" cy="-4.46" rx="1.94" ry="3.02" transform="rotate(0)" fill="#f5f6f8" stroke="#e6e9ee" stroke-width="0.4"/><ellipse cx="0" cy="-4.46" rx="1.94" ry="3.02" transform="rotate(45)" fill="#f5f6f8" stroke="#e6e9ee" stroke-width="0.4"/><ellipse cx="0" cy="-4.46" rx="1.94" ry="3.02" transform="rotate(90)" fill="#f5f6f8" stroke="#e6e9ee" stroke-width="0.4"/><ellipse cx="0" cy="-4.46" rx="1.94" ry="3.02" transform="rotate(135)" fill="#f5f6f8" stroke="#e6e9ee" stroke-width="0.4"/><ellipse cx="0" cy="-4.46" rx="1.94" ry="3.02" transform="rotate(180)" fill="#f5f6f8" stroke="#e6e9ee" stroke-width="0.4"/><ellipse cx="0" cy="-4.46" rx="1.94" ry="3.02" transform="rotate(225)" fill="#f5f6f8" stroke="#e6e9ee" stroke-width="0.4"/><ellipse cx="0" cy="-4.46" rx="1.94" ry="3.02" transform="rotate(270)" fill="#f5f6f8" stroke="#e6e9ee" stroke-width="0.4"/><ellipse cx="0" cy="-4.46" rx="1.94" ry="3.02" transform="rotate(315)" fill="#f5f6f8" stroke="#e6e9ee" stroke-width="0.4"/><circle r="3.17" fill="#fbe6c8"/><circle r="2.30" fill="#e9a548"/></g><g transform="translate(155.7 204.8) rotate(0)"><ellipse cx="0" cy="-3.22" rx="1.40" ry="2.18" transform="rotate(0)" fill="#f5f6f8" stroke="#e6e9ee" stroke-width="0.4"/><ellipse cx="0" cy="-3.22" rx="1.40" ry="2.18" transform="rotate(45)" fill="#f5f6f8" stroke="#e6e9ee" stroke-width="0.4"/><ellipse cx="0" cy="-3.22" rx="1.40" ry="2.18" transform="rotate(90)" fill="#f5f6f8" stroke="#e6e9ee" stroke-width="0.4"/><ellipse cx="0" cy="-3.22" rx="1.40" ry="2.18" transform="rotate(135)" fill="#f5f6f8" stroke="#e6e9ee" stroke-width="0.4"/><ellipse cx="0" cy="-3.22" rx="1.40" ry="2.18" transform="rotate(180)" fill="#f5f6f8" stroke="#e6e9ee" stroke-width="0.4"/><ellipse cx="0" cy="-3.22" rx="1.40" ry="2.18" transform="rotate(225)" fill="#f5f6f8" stroke="#e6e9ee" stroke-width="0.4"/><ellipse cx="0" cy="-3.22" rx="1.40" ry="2.18" transform="rotate(270)" fill="#f5f6f8" stroke="#e6e9ee" stroke-width="0.4"/><ellipse cx="0" cy="-3.22" rx="1.40" ry="2.18" transform="rotate(315)" fill="#f5f6f8" stroke="#e6e9ee" stroke-width="0.4"/><circle r="2.29" fill="#fbe6c8"/><circle r="1.66" fill="#e9a548"/></g><g transform="translate(173.1 201.1) rotate(10)"><ellipse cx="0" cy="-2.98" rx="1.30" ry="2.02" transform="rotate(0)" fill="#f5f6f8" stroke="#e6e9ee" stroke-width="0.4"/><ellipse cx="0" cy="-2.98" rx="1.30" ry="2.02" transform="rotate(45)" fill="#f5f6f8" stroke="#e6e9ee" stroke-width="0.4"/><ellipse cx="0" cy="-2.98" rx="1.30" ry="2.02" transform="rotate(90)" fill="#f5f6f8" stroke="#e6e9ee" stroke-width="0.4"/><ellipse cx="0" cy="-2.98" rx="1.30" ry="2.02" transform="rotate(135)" fill="#f5f6f8" stroke="#e6e9ee" stroke-width="0.4"/><ellipse cx="0" cy="-2.98" rx="1.30" ry="2.02" transform="rotate(180)" fill="#f5f6f8" stroke="#e6e9ee" stroke-width="0.4"/><ellipse cx="0" cy="-2.98" rx="1.30" ry="2.02" transform="rotate(225)" fill="#f5f6f8" stroke="#e6e9ee" stroke-width="0.4"/><ellipse cx="0" cy="-2.98" rx="1.30" ry="2.02" transform="rotate(270)" fill="#f5f6f8" stroke="#e6e9ee" stroke-width="0.4"/><ellipse cx="0" cy="-2.98" rx="1.30" ry="2.02" transform="rotate(315)" fill="#f5f6f8" stroke="#e6e9ee" stroke-width="0.4"/><circle r="2.11" fill="#fbe6c8"/><circle r="1.54" fill="#e9a548"/></g>
</g>
<g id="duckA00"><use href="#artA1"/></g>
<g id="duckA10"><use href="#artA2" transform="translate(-0.4 0)"/></g>
<g id="duckB20"><use href="#artB1" transform="translate(220.5 139.7) scale(1.0435) rotate(-90) translate(-220.8 -139)"/></g>
<g id="duckB01"><use href="#artB1" transform="translate(220.5 139.7) scale(1.0435) rotate(-90) translate(-220.8 -139)"/></g>
<g id="duckB11"><use href="#artB2" transform="translate(220.5 139.7) scale(1.0435) rotate(-90) translate(-220.8 -139)"/></g>
<g id="duckB21"><use href="#artB2" transform="translate(220.5 139.7) scale(1.0435) rotate(-90) translate(-220.8 -139)"/></g>

</defs></svg>
<div class="cell" style="left:0px;top:0px">
<div class="n" style="top:27.2px">1</div><div class="s" style="top:27px;background:#F7955A"></div>
<div class="n" style="top:45.2px">2</div><div class="s" style="top:45px;background:#EBE3D7"></div>
<div class="n" style="top:63.2px">3</div><div class="s" style="top:63px;background:#D4A998"></div>
<div class="n" style="top:81.2px">4</div><div class="s" style="top:81px;background:#F7955A"></div>
<div class="n" style="top:99.2px">5</div><div class="s" style="top:99px;background:#F5BE8C"></div>
<div class="n" style="top:117.2px">6</div><div class="s" style="top:117px;background:#B98062"></div>
<div class="n" style="top:135.2px">7</div><div class="s" style="top:135px;background:#8FA898"></div>
<div class="n" style="top:153.2px">8</div><div class="s" style="top:153px;background:#FFFFFF"></div>
<div class="n" style="top:171.2px">9</div><div class="s" style="top:171px;background:#F29B3E"></div>
<div class="n" style="top:189.2px">10</div><div class="s" style="top:189px;background:#8FA7C4"></div>
<div class="n" style="top:207.2px">11</div><div class="s" style="top:207px;background:#8C5F4C"></div>
<div class="n" style="top:225.2px">12</div><div class="s" style="top:225px;background:#4F4B44"></div>
<svg class="art" viewBox="0 0 342 260"><use href="#duckA00"/></svg>
<div class="t" style="top:258.4px;letter-spacing:0.07px">Nome: MATRIZ DE BORDADO PATINHA GB028 11CM</div>
<div class="t" style="top:274.4px;letter-spacing:0.1px">Arquivo: DUCKS 11CM.PES</div>
<div class="t" style="top:290.4px;letter-spacing:-0.08px">Pontos: 11481</div><div class="r" style="top:290.4px;letter-spacing:0.12px">Cores: 11/12</div>
<div class="t" style="top:306.4px;left:15.6px;letter-spacing:-0.25px">Tamanho: 103.4x99.0 mm</div><div class="r" style="top:306.4px">Pára: 11</div>
</div>
<div class="cell" style="left:341px;top:0px">
<div class="n" style="top:27.2px">1</div><div class="s" style="top:27px;background:#F7955A"></div>
<div class="n" style="top:45.2px">2</div><div class="s" style="top:45px;background:#EBE3D7"></div>
<div class="n" style="top:63.2px">3</div><div class="s" style="top:63px;background:#D4A998"></div>
<div class="n" style="top:81.2px">4</div><div class="s" style="top:81px;background:#F7955A"></div>
<div class="n" style="top:99.2px">5</div><div class="s" style="top:99px;background:#F5BE8C"></div>
<div class="n" style="top:117.2px">6</div><div class="s" style="top:117px;background:#B98062"></div>
<div class="n" style="top:135.2px">7</div><div class="s" style="top:135px;background:#8FA898"></div>
<div class="n" style="top:153.2px">8</div><div class="s" style="top:153px;background:#FFFFFF"></div>
<div class="n" style="top:171.2px">9</div><div class="s" style="top:171px;background:#F29B3E"></div>
<div class="n" style="top:189.2px">10</div><div class="s" style="top:189px;background:#8FA7C4"></div>
<div class="n" style="top:207.2px">11</div><div class="s" style="top:207px;background:#8C5F4C"></div>
<div class="n" style="top:225.2px">12</div><div class="s" style="top:225px;background:#4F4B44"></div>
<svg class="art" viewBox="0 0 342 260"><use href="#duckA10"/></svg>
<div class="t" style="top:258.4px;letter-spacing:0.07px">Nome: MATRIZ DE BORDADO PATINHA GB028 13CM</div>
<div class="t" style="top:274.4px;letter-spacing:0.1px">Arquivo: DUCKS 13CM.PES</div>
<div class="t" style="top:290.4px;letter-spacing:-0.08px">Pontos: 15692</div><div class="r" style="top:290.4px;letter-spacing:0.12px">Cores: 11/12</div>
<div class="t" style="top:306.4px;left:15.6px;letter-spacing:-0.25px">Tamanho: 125.2x120.0 mm</div><div class="r" style="top:306.4px">Pára: 11</div>
</div>
<div class="cell" style="left:683px;top:0px">
<div class="n" style="top:27.2px">1</div><div class="s" style="top:27px;background:#F7955A"></div>
<div class="n" style="top:45.2px">2</div><div class="s" style="top:45px;background:#EBE3D7"></div>
<div class="n" style="top:63.2px">3</div><div class="s" style="top:63px;background:#D4A998"></div>
<div class="n" style="top:81.2px">4</div><div class="s" style="top:81px;background:#F7955A"></div>
<div class="n" style="top:99.2px">5</div><div class="s" style="top:99px;background:#F5BE8C"></div>
<div class="n" style="top:117.2px">6</div><div class="s" style="top:117px;background:#B98062"></div>
<div class="n" style="top:135.2px">7</div><div class="s" style="top:135px;background:#8FA898"></div>
<div class="n" style="top:153.2px">8</div><div class="s" style="top:153px;background:#FFFFFF"></div>
<div class="n" style="top:171.2px">9</div><div class="s" style="top:171px;background:#F29B3E"></div>
<div class="n" style="top:189.2px">10</div><div class="s" style="top:189px;background:#8FA7C4"></div>
<div class="n" style="top:207.2px">11</div><div class="s" style="top:207px;background:#8C5F4C"></div>
<div class="n" style="top:225.2px">12</div><div class="s" style="top:225px;background:#4F4B44"></div>
<svg class="art" viewBox="0 0 342 260"><use href="#duckB20"/></svg>
<div class="t" style="top:258.4px;letter-spacing:0.07px">Nome: MATRIZ DE BORDADO PATINHA GB028 14CM</div>
<div class="t" style="top:274.4px;letter-spacing:0.1px">Arquivo: DUCKS 14CM.PES</div>
<div class="t" style="top:290.4px;letter-spacing:-0.08px">Pontos: 16973</div><div class="r" style="top:290.4px;letter-spacing:0.12px">Cores: 11/12</div>
<div class="t" style="top:306.4px;left:15.6px;letter-spacing:-0.25px">Tamanho: 129.0x134.6 mm</div><div class="r" style="top:306.4px">Pára: 11</div>
</div>
<div class="cell" style="left:0px;top:342px">
<div class="n" style="top:27.2px">1</div><div class="s" style="top:27px;background:#F7955A"></div>
<div class="n" style="top:45.2px">2</div><div class="s" style="top:45px;background:#EBE3D7"></div>
<div class="n" style="top:63.2px">3</div><div class="s" style="top:63px;background:#D4A998"></div>
<div class="n" style="top:81.2px">4</div><div class="s" style="top:81px;background:#F7955A"></div>
<div class="n" style="top:99.2px">5</div><div class="s" style="top:99px;background:#F5BE8C"></div>
<div class="n" style="top:117.2px">6</div><div class="s" style="top:117px;background:#B98062"></div>
<div class="n" style="top:135.2px">7</div><div class="s" style="top:135px;background:#8FA898"></div>
<div class="n" style="top:153.2px">8</div><div class="s" style="top:153px;background:#FFFFFF"></div>
<div class="n" style="top:171.2px">9</div><div class="s" style="top:171px;background:#F29B3E"></div>
<div class="n" style="top:189.2px">10</div><div class="s" style="top:189px;background:#8FA7C4"></div>
<div class="n" style="top:207.2px">11</div><div class="s" style="top:207px;background:#8C5F4C"></div>
<div class="n" style="top:225.2px">12</div><div class="s" style="top:225px;background:#4F4B44"></div>
<svg class="art" viewBox="0 0 342 260"><use href="#duckB01"/></svg>
<div class="t" style="top:258.4px;letter-spacing:0.07px">Nome: MATRIZ DE BORDADO PATINHA GB028 15CM</div>
<div class="t" style="top:274.4px;letter-spacing:0.1px">Arquivo: DUCKS 15CM.PES</div>
<div class="t" style="top:290.4px;letter-spacing:-0.08px">Pontos: 18459</div><div class="r" style="top:290.4px;letter-spacing:0.12px">Cores: 11/12</div>
<div class="t" style="top:306.4px;left:15.6px;letter-spacing:-0.25px">Tamanho: 139.0x145.2 mm</div><div class="r" style="top:306.4px">Pára: 11</div>
</div>
<div class="cell" style="left:341px;top:342px">
<div class="n" style="top:27.2px">1</div><div class="s" style="top:27px;background:#F7955A"></div>
<div class="n" style="top:45.2px">2</div><div class="s" style="top:45px;background:#EBE3D7"></div>
<div class="n" style="top:63.2px">3</div><div class="s" style="top:63px;background:#D4A998"></div>
<div class="n" style="top:81.2px">4</div><div class="s" style="top:81px;background:#F7955A"></div>
<div class="n" style="top:99.2px">5</div><div class="s" style="top:99px;background:#F5BE8C"></div>
<div class="n" style="top:117.2px">6</div><div class="s" style="top:117px;background:#B98062"></div>
<div class="n" style="top:135.2px">7</div><div class="s" style="top:135px;background:#8FA898"></div>
<div class="n" style="top:153.2px">8</div><div class="s" style="top:153px;background:#FFFFFF"></div>
<div class="n" style="top:171.2px">9</div><div class="s" style="top:171px;background:#F29B3E"></div>
<div class="n" style="top:189.2px">10</div><div class="s" style="top:189px;background:#8FA7C4"></div>
<div class="n" style="top:207.2px">11</div><div class="s" style="top:207px;background:#8C5F4C"></div>
<div class="n" style="top:225.2px">12</div><div class="s" style="top:225px;background:#4F4B44"></div>
<svg class="art" viewBox="0 0 342 260"><use href="#duckB11"/></svg>
<div class="t" style="top:258.4px;letter-spacing:0.07px">Nome: MATRIZ DE BORDADO PATINHA GB028 17CM</div>
<div class="t" style="top:274.4px;letter-spacing:0.1px">Arquivo: DUCKS 17CM.PES</div>
<div class="t" style="top:290.4px;letter-spacing:-0.08px">Pontos: 21537</div><div class="r" style="top:290.4px;letter-spacing:0.12px">Cores: 11/12</div>
<div class="t" style="top:306.4px;left:15.6px;letter-spacing:-0.25px">Tamanho: 159.0x166.0 mm</div><div class="r" style="top:306.4px">Pára: 11</div>
</div>
<div class="cell" style="left:683px;top:342px">
<div class="n" style="top:27.2px">1</div><div class="s" style="top:27px;background:#F7955A"></div>
<div class="n" style="top:45.2px">2</div><div class="s" style="top:45px;background:#EBE3D7"></div>
<div class="n" style="top:63.2px">3</div><div class="s" style="top:63px;background:#D4A998"></div>
<div class="n" style="top:81.2px">4</div><div class="s" style="top:81px;background:#F7955A"></div>
<div class="n" style="top:99.2px">5</div><div class="s" style="top:99px;background:#F5BE8C"></div>
<div class="n" style="top:117.2px">6</div><div class="s" style="top:117px;background:#B98062"></div>
<div class="n" style="top:135.2px">7</div><div class="s" style="top:135px;background:#8FA898"></div>
<div class="n" style="top:153.2px">8</div><div class="s" style="top:153px;background:#FFFFFF"></div>
<div class="n" style="top:171.2px">9</div><div class="s" style="top:171px;background:#F29B3E"></div>
<div class="n" style="top:189.2px">10</div><div class="s" style="top:189px;background:#8FA7C4"></div>
<div class="n" style="top:207.2px">11</div><div class="s" style="top:207px;background:#8C5F4C"></div>
<div class="n" style="top:225.2px">12</div><div class="s" style="top:225px;background:#4F4B44"></div>
<svg class="art" viewBox="0 0 342 260"><use href="#duckB21"/></svg>
<div class="t" style="top:258.4px;letter-spacing:0.07px">Nome: MATRIZ DE BORDADO PATINHA GB028 19CM</div>
<div class="t" style="top:274.4px;letter-spacing:0.1px">Arquivo: DUCKS 19CM.PES</div>
<div class="t" style="top:290.4px;letter-spacing:-0.08px">Pontos: 24911</div><div class="r" style="top:290.4px;letter-spacing:0.12px">Cores: 11/12</div>
<div class="t" style="top:306.4px;left:15.6px;letter-spacing:-0.25px">Tamanho: 179.0x186.8 mm</div><div class="r" style="top:306.4px">Pára: 11</div>
</div>
<div class="f" style="left:0">Página 1 de 1</div>
<div class="f" style="left:232px">Source: C:\Users\dellm\OneDrive\Documentos\BORDADOS\MARCIA ETSY\4005. DUCKS pasta</div>
<div class="f" style="left:960.5px">13/09/2025</div>
</body></html>
